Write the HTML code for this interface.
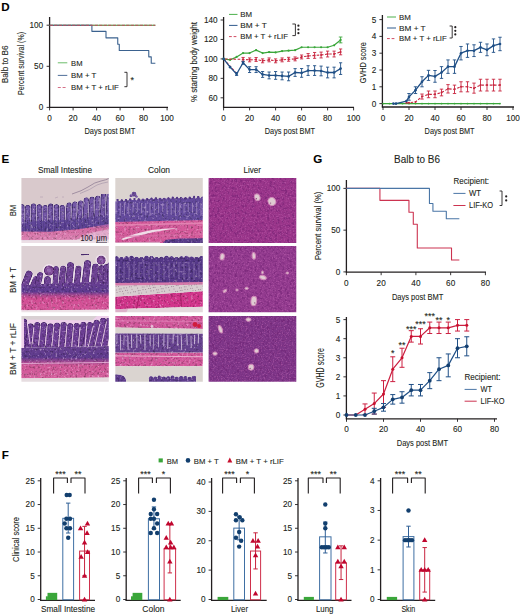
<!DOCTYPE html><html><head><meta charset="utf-8"><style>html,body{margin:0;padding:0;background:#fff;width:520px;height:614px;overflow:hidden}svg{display:block;font-family:"Liberation Sans",sans-serif}text{stroke:#231f20;stroke-width:0.18px;stroke-opacity:0.6}</style></head><body>
<svg width="520" height="614" viewBox="0 0 520 614">
<rect width="520" height="614" fill="#fff"/>
<text x="1.3" y="10.6" font-size="11.6" text-anchor="start" fill="#000" font-weight="bold">D</text>
<line x1="49.6" y1="17" x2="49.6" y2="107.9" stroke="#231f20" stroke-width="1.3"/>
<line x1="46.6" y1="25.2" x2="49.6" y2="25.2" stroke="#231f20" stroke-width="0.9"/>
<text x="43.2" y="28.1" font-size="8.2" text-anchor="end" fill="#231f20" font-weight="normal">100</text>
<line x1="46.6" y1="66.3" x2="49.6" y2="66.3" stroke="#231f20" stroke-width="0.9"/>
<text x="43.2" y="69.2" font-size="8.2" text-anchor="end" fill="#231f20" font-weight="normal">50</text>
<line x1="46.6" y1="107.4" x2="49.6" y2="107.4" stroke="#231f20" stroke-width="0.9"/>
<text x="43.2" y="110.3" font-size="8.2" text-anchor="end" fill="#231f20" font-weight="normal">0</text>
<line x1="49.1" y1="107.4" x2="168" y2="107.4" stroke="#231f20" stroke-width="1.3"/>
<line x1="49.6" y1="107.4" x2="49.6" y2="110.4" stroke="#231f20" stroke-width="0.9"/>
<text x="49.6" y="120.6" font-size="8.2" text-anchor="middle" fill="#231f20" font-weight="normal">0</text>
<line x1="73.1" y1="107.4" x2="73.1" y2="110.4" stroke="#231f20" stroke-width="0.9"/>
<text x="73.1" y="120.6" font-size="8.2" text-anchor="middle" fill="#231f20" font-weight="normal">20</text>
<line x1="96.6" y1="107.4" x2="96.6" y2="110.4" stroke="#231f20" stroke-width="0.9"/>
<text x="96.6" y="120.6" font-size="8.2" text-anchor="middle" fill="#231f20" font-weight="normal">40</text>
<line x1="120.1" y1="107.4" x2="120.1" y2="110.4" stroke="#231f20" stroke-width="0.9"/>
<text x="120.1" y="120.6" font-size="8.2" text-anchor="middle" fill="#231f20" font-weight="normal">60</text>
<line x1="143.6" y1="107.4" x2="143.6" y2="110.4" stroke="#231f20" stroke-width="0.9"/>
<text x="143.6" y="120.6" font-size="8.2" text-anchor="middle" fill="#231f20" font-weight="normal">80</text>
<line x1="167.1" y1="107.4" x2="167.1" y2="110.4" stroke="#231f20" stroke-width="0.9"/>
<text x="167.1" y="120.6" font-size="8.2" text-anchor="middle" fill="#231f20" font-weight="normal">100</text>
<text x="109.9" y="133.9" font-size="9.8" text-anchor="middle" fill="#231f20" font-weight="normal" textLength="50.8" lengthAdjust="spacingAndGlyphs">Days post BMT</text>
<text transform="translate(24 63.5) rotate(-90)" x="0" y="0" font-size="9.6" text-anchor="middle" fill="#231f20" font-weight="normal" textLength="63" lengthAdjust="spacingAndGlyphs">Percent survival (%)</text>
<text transform="translate(8.2 64.3) rotate(-90)" x="0" y="0" font-size="8.6" text-anchor="middle" fill="#231f20" font-weight="normal" textLength="37.8" lengthAdjust="spacingAndGlyphs">Balb to B6</text>
<polyline points="49.6,25.2 155.35,25.2" fill="none" stroke="#2ca02c" stroke-width="1.1" stroke-linejoin="round"/>
<polyline points="49.6,25.2 91.9,25.2 91.9,31.37 106,31.37 106,37.86 117.75,37.86 117.75,44.19 119.28,44.19 119.28,50.52 148.77,50.52 148.77,56.85 151.24,56.85 151.24,63.18 155.35,63.18" fill="none" stroke="#3b628f" stroke-width="1.1" stroke-linejoin="round"/>
<polyline points="49.6,25.2 155.35,25.2" fill="none" stroke="#c24a5e" stroke-width="1.1" stroke-linejoin="round" stroke-dasharray="3.4,1.1"/>
<line x1="57.8" y1="62.8" x2="67.3" y2="62.8" stroke="#5bb55a" stroke-width="0.9"/>
<line x1="57.8" y1="75.4" x2="67.3" y2="75.4" stroke="#3b5d8d" stroke-width="0.9"/>
<line x1="57.8" y1="87.5" x2="67.3" y2="87.5" stroke="#d0607a" stroke-width="0.9" stroke-dasharray="3,1.8"/>
<text x="71.1" y="65.9" font-size="7.6" text-anchor="start" fill="#231f20" font-weight="normal" textLength="11.4" lengthAdjust="spacingAndGlyphs">BM</text>
<text x="71.1" y="78.2" font-size="7.6" text-anchor="start" fill="#231f20" font-weight="normal" textLength="25.3" lengthAdjust="spacingAndGlyphs">BM + T</text>
<text x="71.1" y="90.3" font-size="7.6" text-anchor="start" fill="#231f20" font-weight="normal" textLength="47.8" lengthAdjust="spacingAndGlyphs">BM + T + rLIF</text>
<polyline points="124.4,72.3 127,72.3 127,86.7 124.4,86.7" fill="none" stroke="#231f20" stroke-width="0.9" stroke-linejoin="round"/>
<text x="132.2" y="83.4" font-size="9" text-anchor="middle" fill="#231f20" font-weight="normal">*</text>
<line x1="223.6" y1="17" x2="223.6" y2="107.9" stroke="#231f20" stroke-width="1.3"/>
<line x1="220.6" y1="20" x2="223.6" y2="20" stroke="#231f20" stroke-width="0.9"/>
<text x="217.6" y="22.9" font-size="8.2" text-anchor="end" fill="#231f20" font-weight="normal">140</text>
<line x1="220.6" y1="39.45" x2="223.6" y2="39.45" stroke="#231f20" stroke-width="0.9"/>
<text x="217.6" y="42.35" font-size="8.2" text-anchor="end" fill="#231f20" font-weight="normal">120</text>
<line x1="220.6" y1="58.9" x2="223.6" y2="58.9" stroke="#231f20" stroke-width="0.9"/>
<text x="217.6" y="61.8" font-size="8.2" text-anchor="end" fill="#231f20" font-weight="normal">100</text>
<line x1="220.6" y1="78.35" x2="223.6" y2="78.35" stroke="#231f20" stroke-width="0.9"/>
<text x="217.6" y="81.25" font-size="8.2" text-anchor="end" fill="#231f20" font-weight="normal">80</text>
<line x1="220.6" y1="97.8" x2="223.6" y2="97.8" stroke="#231f20" stroke-width="0.9"/>
<text x="217.6" y="100.7" font-size="8.2" text-anchor="end" fill="#231f20" font-weight="normal">60</text>
<line x1="223.1" y1="107.4" x2="354" y2="107.4" stroke="#231f20" stroke-width="1.3"/>
<line x1="223.6" y1="107.4" x2="223.6" y2="110.4" stroke="#231f20" stroke-width="0.9"/>
<text x="223.6" y="120.6" font-size="8.2" text-anchor="middle" fill="#231f20" font-weight="normal">0</text>
<line x1="249.6" y1="107.4" x2="249.6" y2="110.4" stroke="#231f20" stroke-width="0.9"/>
<text x="249.6" y="120.6" font-size="8.2" text-anchor="middle" fill="#231f20" font-weight="normal">20</text>
<line x1="275.6" y1="107.4" x2="275.6" y2="110.4" stroke="#231f20" stroke-width="0.9"/>
<text x="275.6" y="120.6" font-size="8.2" text-anchor="middle" fill="#231f20" font-weight="normal">40</text>
<line x1="301.6" y1="107.4" x2="301.6" y2="110.4" stroke="#231f20" stroke-width="0.9"/>
<text x="301.6" y="120.6" font-size="8.2" text-anchor="middle" fill="#231f20" font-weight="normal">60</text>
<line x1="327.6" y1="107.4" x2="327.6" y2="110.4" stroke="#231f20" stroke-width="0.9"/>
<text x="327.6" y="120.6" font-size="8.2" text-anchor="middle" fill="#231f20" font-weight="normal">80</text>
<line x1="353.6" y1="107.4" x2="353.6" y2="110.4" stroke="#231f20" stroke-width="0.9"/>
<text x="353.6" y="120.6" font-size="8.2" text-anchor="middle" fill="#231f20" font-weight="normal">100</text>
<text x="289.9" y="133.9" font-size="9.8" text-anchor="middle" fill="#231f20" font-weight="normal" textLength="50.2" lengthAdjust="spacingAndGlyphs">Days post BMT</text>
<text transform="translate(196.9 62) rotate(-90)" x="0" y="0" font-size="9.2" text-anchor="middle" fill="#231f20" font-weight="normal" textLength="80" lengthAdjust="spacingAndGlyphs">% starting body weight</text>
<polyline points="223.6,58.9 230.1,59.87 236.6,56.95 243.1,53.06 249.6,53.06 256.1,50.15 262.6,53.06 269.1,52.09 275.6,52.38 282.1,51.12 288.6,50.63 295.1,50.15 301.6,47.23 308.1,47.23 314.6,47.23 321.1,47.23 327.6,47.23 334.1,45.28 340.6,39.94" fill="none" stroke="#3aa63a" stroke-width="1.2" stroke-linejoin="round"/>
<circle cx="223.6" cy="58.9" r="1.1" fill="#3aa63a"/>
<circle cx="230.1" cy="59.87" r="1.1" fill="#3aa63a"/>
<circle cx="236.6" cy="56.95" r="1.1" fill="#3aa63a"/>
<circle cx="243.1" cy="53.06" r="1.1" fill="#3aa63a"/>
<circle cx="249.6" cy="53.06" r="1.1" fill="#3aa63a"/>
<circle cx="256.1" cy="50.15" r="1.1" fill="#3aa63a"/>
<circle cx="262.6" cy="53.06" r="1.1" fill="#3aa63a"/>
<circle cx="269.1" cy="52.09" r="1.1" fill="#3aa63a"/>
<circle cx="275.6" cy="52.38" r="1.1" fill="#3aa63a"/>
<circle cx="282.1" cy="51.12" r="1.1" fill="#3aa63a"/>
<circle cx="288.6" cy="50.63" r="1.1" fill="#3aa63a"/>
<circle cx="295.1" cy="50.15" r="1.1" fill="#3aa63a"/>
<circle cx="301.6" cy="47.23" r="1.1" fill="#3aa63a"/>
<circle cx="308.1" cy="47.23" r="1.1" fill="#3aa63a"/>
<circle cx="314.6" cy="47.23" r="1.1" fill="#3aa63a"/>
<circle cx="321.1" cy="47.23" r="1.1" fill="#3aa63a"/>
<circle cx="327.6" cy="47.23" r="1.1" fill="#3aa63a"/>
<circle cx="334.1" cy="45.28" r="1.1" fill="#3aa63a"/>
<circle cx="340.6" cy="39.94" r="1.1" fill="#3aa63a"/>
<line x1="340.6" y1="37.02" x2="340.6" y2="42.85" stroke="#3aa63a" stroke-width="0.9"/>
<line x1="338.8" y1="37.02" x2="342.4" y2="37.02" stroke="#3aa63a" stroke-width="0.9"/>
<line x1="338.8" y1="42.85" x2="342.4" y2="42.85" stroke="#3aa63a" stroke-width="0.9"/>
<polyline points="236.6,73.49 223.6,58.9 243.1,59.39 249.6,59.87 256.1,59.48 262.6,60.84 269.1,59.87 275.6,60.84 282.1,59.87 288.6,59.29 295.1,58.9 301.6,56.95 308.1,55.98 314.6,55.4 321.1,55.01 327.6,54.04 334.1,54.04 340.6,51.9" fill="none" stroke="#c8263f" stroke-width="1.1" stroke-linejoin="round" stroke-dasharray="2.6,1.6"/>
<line x1="243.1" y1="57.44" x2="243.1" y2="61.33" stroke="#c8263f" stroke-width="0.9"/>
<line x1="241.5" y1="57.44" x2="244.7" y2="57.44" stroke="#c8263f" stroke-width="0.9"/>
<line x1="241.5" y1="61.33" x2="244.7" y2="61.33" stroke="#c8263f" stroke-width="0.9"/>
<circle cx="243.1" cy="59.39" r="1" fill="#c8263f"/>
<line x1="249.6" y1="57.93" x2="249.6" y2="61.82" stroke="#c8263f" stroke-width="0.9"/>
<line x1="248" y1="57.93" x2="251.2" y2="57.93" stroke="#c8263f" stroke-width="0.9"/>
<line x1="248" y1="61.82" x2="251.2" y2="61.82" stroke="#c8263f" stroke-width="0.9"/>
<circle cx="249.6" cy="59.87" r="1" fill="#c8263f"/>
<line x1="256.1" y1="57.54" x2="256.1" y2="61.43" stroke="#c8263f" stroke-width="0.9"/>
<line x1="254.5" y1="57.54" x2="257.7" y2="57.54" stroke="#c8263f" stroke-width="0.9"/>
<line x1="254.5" y1="61.43" x2="257.7" y2="61.43" stroke="#c8263f" stroke-width="0.9"/>
<circle cx="256.1" cy="59.48" r="1" fill="#c8263f"/>
<line x1="262.6" y1="58.9" x2="262.6" y2="62.79" stroke="#c8263f" stroke-width="0.9"/>
<line x1="261" y1="58.9" x2="264.2" y2="58.9" stroke="#c8263f" stroke-width="0.9"/>
<line x1="261" y1="62.79" x2="264.2" y2="62.79" stroke="#c8263f" stroke-width="0.9"/>
<circle cx="262.6" cy="60.84" r="1" fill="#c8263f"/>
<line x1="269.1" y1="57.93" x2="269.1" y2="61.82" stroke="#c8263f" stroke-width="0.9"/>
<line x1="267.5" y1="57.93" x2="270.7" y2="57.93" stroke="#c8263f" stroke-width="0.9"/>
<line x1="267.5" y1="61.82" x2="270.7" y2="61.82" stroke="#c8263f" stroke-width="0.9"/>
<circle cx="269.1" cy="59.87" r="1" fill="#c8263f"/>
<line x1="275.6" y1="58.9" x2="275.6" y2="62.79" stroke="#c8263f" stroke-width="0.9"/>
<line x1="274" y1="58.9" x2="277.2" y2="58.9" stroke="#c8263f" stroke-width="0.9"/>
<line x1="274" y1="62.79" x2="277.2" y2="62.79" stroke="#c8263f" stroke-width="0.9"/>
<circle cx="275.6" cy="60.84" r="1" fill="#c8263f"/>
<line x1="282.1" y1="57.93" x2="282.1" y2="61.82" stroke="#c8263f" stroke-width="0.9"/>
<line x1="280.5" y1="57.93" x2="283.7" y2="57.93" stroke="#c8263f" stroke-width="0.9"/>
<line x1="280.5" y1="61.82" x2="283.7" y2="61.82" stroke="#c8263f" stroke-width="0.9"/>
<circle cx="282.1" cy="59.87" r="1" fill="#c8263f"/>
<line x1="288.6" y1="57.34" x2="288.6" y2="61.23" stroke="#c8263f" stroke-width="0.9"/>
<line x1="287" y1="57.34" x2="290.2" y2="57.34" stroke="#c8263f" stroke-width="0.9"/>
<line x1="287" y1="61.23" x2="290.2" y2="61.23" stroke="#c8263f" stroke-width="0.9"/>
<circle cx="288.6" cy="59.29" r="1" fill="#c8263f"/>
<line x1="295.1" y1="56.95" x2="295.1" y2="60.84" stroke="#c8263f" stroke-width="0.9"/>
<line x1="293.5" y1="56.95" x2="296.7" y2="56.95" stroke="#c8263f" stroke-width="0.9"/>
<line x1="293.5" y1="60.84" x2="296.7" y2="60.84" stroke="#c8263f" stroke-width="0.9"/>
<circle cx="295.1" cy="58.9" r="1" fill="#c8263f"/>
<line x1="301.6" y1="55.01" x2="301.6" y2="58.9" stroke="#c8263f" stroke-width="0.9"/>
<line x1="300" y1="55.01" x2="303.2" y2="55.01" stroke="#c8263f" stroke-width="0.9"/>
<line x1="300" y1="58.9" x2="303.2" y2="58.9" stroke="#c8263f" stroke-width="0.9"/>
<circle cx="301.6" cy="56.95" r="1" fill="#c8263f"/>
<line x1="308.1" y1="53.55" x2="308.1" y2="58.41" stroke="#c8263f" stroke-width="0.9"/>
<line x1="306.5" y1="53.55" x2="309.7" y2="53.55" stroke="#c8263f" stroke-width="0.9"/>
<line x1="306.5" y1="58.41" x2="309.7" y2="58.41" stroke="#c8263f" stroke-width="0.9"/>
<circle cx="308.1" cy="55.98" r="1" fill="#c8263f"/>
<line x1="314.6" y1="52.48" x2="314.6" y2="58.32" stroke="#c8263f" stroke-width="0.9"/>
<line x1="313" y1="52.48" x2="316.2" y2="52.48" stroke="#c8263f" stroke-width="0.9"/>
<line x1="313" y1="58.32" x2="316.2" y2="58.32" stroke="#c8263f" stroke-width="0.9"/>
<circle cx="314.6" cy="55.4" r="1" fill="#c8263f"/>
<line x1="321.1" y1="52.09" x2="321.1" y2="57.93" stroke="#c8263f" stroke-width="0.9"/>
<line x1="319.5" y1="52.09" x2="322.7" y2="52.09" stroke="#c8263f" stroke-width="0.9"/>
<line x1="319.5" y1="57.93" x2="322.7" y2="57.93" stroke="#c8263f" stroke-width="0.9"/>
<circle cx="321.1" cy="55.01" r="1" fill="#c8263f"/>
<line x1="327.6" y1="51.12" x2="327.6" y2="56.95" stroke="#c8263f" stroke-width="0.9"/>
<line x1="326" y1="51.12" x2="329.2" y2="51.12" stroke="#c8263f" stroke-width="0.9"/>
<line x1="326" y1="56.95" x2="329.2" y2="56.95" stroke="#c8263f" stroke-width="0.9"/>
<circle cx="327.6" cy="54.04" r="1" fill="#c8263f"/>
<line x1="334.1" y1="51.12" x2="334.1" y2="56.95" stroke="#c8263f" stroke-width="0.9"/>
<line x1="332.5" y1="51.12" x2="335.7" y2="51.12" stroke="#c8263f" stroke-width="0.9"/>
<line x1="332.5" y1="56.95" x2="335.7" y2="56.95" stroke="#c8263f" stroke-width="0.9"/>
<circle cx="334.1" cy="54.04" r="1" fill="#c8263f"/>
<line x1="340.6" y1="48.98" x2="340.6" y2="54.82" stroke="#c8263f" stroke-width="0.9"/>
<line x1="339" y1="48.98" x2="342.2" y2="48.98" stroke="#c8263f" stroke-width="0.9"/>
<line x1="339" y1="54.82" x2="342.2" y2="54.82" stroke="#c8263f" stroke-width="0.9"/>
<circle cx="340.6" cy="51.9" r="1" fill="#c8263f"/>
<polyline points="223.6,58.9 230.1,67.17 236.6,73.97 243.1,62.79 249.6,69.6 256.1,69.6 262.6,74.46 269.1,75.43 275.6,75.43 282.1,75.92 288.6,76.41 295.1,72.52 301.6,72.9 308.1,70.57 314.6,70.57 321.1,70.96 327.6,72.52 334.1,72.52 340.6,68.62" fill="none" stroke="#1f4f86" stroke-width="1.3" stroke-linejoin="round"/>
<circle cx="223.6" cy="58.9" r="1.3" fill="#1f4f86"/>
<circle cx="230.1" cy="67.17" r="1.3" fill="#1f4f86"/>
<line x1="236.6" y1="72.52" x2="236.6" y2="75.43" stroke="#1f4f86" stroke-width="0.9"/>
<line x1="235" y1="72.52" x2="238.2" y2="72.52" stroke="#1f4f86" stroke-width="0.9"/>
<line x1="235" y1="75.43" x2="238.2" y2="75.43" stroke="#1f4f86" stroke-width="0.9"/>
<circle cx="236.6" cy="73.97" r="1.3" fill="#1f4f86"/>
<line x1="243.1" y1="61.33" x2="243.1" y2="64.25" stroke="#1f4f86" stroke-width="0.9"/>
<line x1="241.5" y1="61.33" x2="244.7" y2="61.33" stroke="#1f4f86" stroke-width="0.9"/>
<line x1="241.5" y1="64.25" x2="244.7" y2="64.25" stroke="#1f4f86" stroke-width="0.9"/>
<circle cx="243.1" cy="62.79" r="1.3" fill="#1f4f86"/>
<line x1="249.6" y1="66.68" x2="249.6" y2="72.52" stroke="#1f4f86" stroke-width="0.9"/>
<line x1="248" y1="66.68" x2="251.2" y2="66.68" stroke="#1f4f86" stroke-width="0.9"/>
<line x1="248" y1="72.52" x2="251.2" y2="72.52" stroke="#1f4f86" stroke-width="0.9"/>
<circle cx="249.6" cy="69.6" r="1.3" fill="#1f4f86"/>
<line x1="256.1" y1="66.68" x2="256.1" y2="72.52" stroke="#1f4f86" stroke-width="0.9"/>
<line x1="254.5" y1="66.68" x2="257.7" y2="66.68" stroke="#1f4f86" stroke-width="0.9"/>
<line x1="254.5" y1="72.52" x2="257.7" y2="72.52" stroke="#1f4f86" stroke-width="0.9"/>
<circle cx="256.1" cy="69.6" r="1.3" fill="#1f4f86"/>
<line x1="262.6" y1="71.54" x2="262.6" y2="77.38" stroke="#1f4f86" stroke-width="0.9"/>
<line x1="261" y1="71.54" x2="264.2" y2="71.54" stroke="#1f4f86" stroke-width="0.9"/>
<line x1="261" y1="77.38" x2="264.2" y2="77.38" stroke="#1f4f86" stroke-width="0.9"/>
<circle cx="262.6" cy="74.46" r="1.3" fill="#1f4f86"/>
<line x1="269.1" y1="72.03" x2="269.1" y2="78.84" stroke="#1f4f86" stroke-width="0.9"/>
<line x1="267.5" y1="72.03" x2="270.7" y2="72.03" stroke="#1f4f86" stroke-width="0.9"/>
<line x1="267.5" y1="78.84" x2="270.7" y2="78.84" stroke="#1f4f86" stroke-width="0.9"/>
<circle cx="269.1" cy="75.43" r="1.3" fill="#1f4f86"/>
<line x1="275.6" y1="71.54" x2="275.6" y2="79.32" stroke="#1f4f86" stroke-width="0.9"/>
<line x1="274" y1="71.54" x2="277.2" y2="71.54" stroke="#1f4f86" stroke-width="0.9"/>
<line x1="274" y1="79.32" x2="277.2" y2="79.32" stroke="#1f4f86" stroke-width="0.9"/>
<circle cx="275.6" cy="75.43" r="1.3" fill="#1f4f86"/>
<line x1="282.1" y1="72.03" x2="282.1" y2="79.81" stroke="#1f4f86" stroke-width="0.9"/>
<line x1="280.5" y1="72.03" x2="283.7" y2="72.03" stroke="#1f4f86" stroke-width="0.9"/>
<line x1="280.5" y1="79.81" x2="283.7" y2="79.81" stroke="#1f4f86" stroke-width="0.9"/>
<circle cx="282.1" cy="75.92" r="1.3" fill="#1f4f86"/>
<line x1="288.6" y1="72.03" x2="288.6" y2="80.78" stroke="#1f4f86" stroke-width="0.9"/>
<line x1="287" y1="72.03" x2="290.2" y2="72.03" stroke="#1f4f86" stroke-width="0.9"/>
<line x1="287" y1="80.78" x2="290.2" y2="80.78" stroke="#1f4f86" stroke-width="0.9"/>
<circle cx="288.6" cy="76.41" r="1.3" fill="#1f4f86"/>
<line x1="295.1" y1="68.62" x2="295.1" y2="76.41" stroke="#1f4f86" stroke-width="0.9"/>
<line x1="293.5" y1="68.62" x2="296.7" y2="68.62" stroke="#1f4f86" stroke-width="0.9"/>
<line x1="293.5" y1="76.41" x2="296.7" y2="76.41" stroke="#1f4f86" stroke-width="0.9"/>
<circle cx="295.1" cy="72.52" r="1.3" fill="#1f4f86"/>
<line x1="301.6" y1="68.53" x2="301.6" y2="77.28" stroke="#1f4f86" stroke-width="0.9"/>
<line x1="300" y1="68.53" x2="303.2" y2="68.53" stroke="#1f4f86" stroke-width="0.9"/>
<line x1="300" y1="77.28" x2="303.2" y2="77.28" stroke="#1f4f86" stroke-width="0.9"/>
<circle cx="301.6" cy="72.9" r="1.3" fill="#1f4f86"/>
<line x1="308.1" y1="65.71" x2="308.1" y2="75.43" stroke="#1f4f86" stroke-width="0.9"/>
<line x1="306.5" y1="65.71" x2="309.7" y2="65.71" stroke="#1f4f86" stroke-width="0.9"/>
<line x1="306.5" y1="75.43" x2="309.7" y2="75.43" stroke="#1f4f86" stroke-width="0.9"/>
<circle cx="308.1" cy="70.57" r="1.3" fill="#1f4f86"/>
<line x1="314.6" y1="65.71" x2="314.6" y2="75.43" stroke="#1f4f86" stroke-width="0.9"/>
<line x1="313" y1="65.71" x2="316.2" y2="65.71" stroke="#1f4f86" stroke-width="0.9"/>
<line x1="313" y1="75.43" x2="316.2" y2="75.43" stroke="#1f4f86" stroke-width="0.9"/>
<circle cx="314.6" cy="70.57" r="1.3" fill="#1f4f86"/>
<line x1="321.1" y1="66.1" x2="321.1" y2="75.82" stroke="#1f4f86" stroke-width="0.9"/>
<line x1="319.5" y1="66.1" x2="322.7" y2="66.1" stroke="#1f4f86" stroke-width="0.9"/>
<line x1="319.5" y1="75.82" x2="322.7" y2="75.82" stroke="#1f4f86" stroke-width="0.9"/>
<circle cx="321.1" cy="70.96" r="1.3" fill="#1f4f86"/>
<line x1="327.6" y1="67.17" x2="327.6" y2="77.86" stroke="#1f4f86" stroke-width="0.9"/>
<line x1="326" y1="67.17" x2="329.2" y2="67.17" stroke="#1f4f86" stroke-width="0.9"/>
<line x1="326" y1="77.86" x2="329.2" y2="77.86" stroke="#1f4f86" stroke-width="0.9"/>
<circle cx="327.6" cy="72.52" r="1.3" fill="#1f4f86"/>
<line x1="334.1" y1="67.17" x2="334.1" y2="77.86" stroke="#1f4f86" stroke-width="0.9"/>
<line x1="332.5" y1="67.17" x2="335.7" y2="67.17" stroke="#1f4f86" stroke-width="0.9"/>
<line x1="332.5" y1="77.86" x2="335.7" y2="77.86" stroke="#1f4f86" stroke-width="0.9"/>
<circle cx="334.1" cy="72.52" r="1.3" fill="#1f4f86"/>
<line x1="340.6" y1="62.79" x2="340.6" y2="74.46" stroke="#1f4f86" stroke-width="0.9"/>
<line x1="339" y1="62.79" x2="342.2" y2="62.79" stroke="#1f4f86" stroke-width="0.9"/>
<line x1="339" y1="74.46" x2="342.2" y2="74.46" stroke="#1f4f86" stroke-width="0.9"/>
<circle cx="340.6" cy="68.62" r="1.3" fill="#1f4f86"/>
<line x1="229" y1="14.4" x2="237.5" y2="14.4" stroke="#4cb04c" stroke-width="1"/>
<line x1="229" y1="25.4" x2="237.5" y2="25.4" stroke="#2f5a8c" stroke-width="1"/>
<line x1="229" y1="36.6" x2="237.5" y2="36.6" stroke="#d04a62" stroke-width="1" stroke-dasharray="2.8,1.8"/>
<text x="240.2" y="17.4" font-size="7.6" text-anchor="start" fill="#231f20" font-weight="normal" textLength="11.8" lengthAdjust="spacingAndGlyphs">BM</text>
<text x="240.2" y="28.2" font-size="7.6" text-anchor="start" fill="#231f20" font-weight="normal" textLength="26.6" lengthAdjust="spacingAndGlyphs">BM + T</text>
<text x="240.2" y="39.4" font-size="7.6" text-anchor="start" fill="#231f20" font-weight="normal" textLength="47.8" lengthAdjust="spacingAndGlyphs">BM + T + rLIF</text>
<polyline points="292.4,24 295.4,24 295.4,35.6 292.4,35.6" fill="none" stroke="#231f20" stroke-width="0.9" stroke-linejoin="round"/>
<circle cx="298.4" cy="25.7" r="1.1" fill="#231f20"/>
<circle cx="298.4" cy="29.5" r="1.1" fill="#231f20"/>
<circle cx="298.4" cy="33.2" r="1.1" fill="#231f20"/>
<line x1="382.4" y1="15" x2="382.4" y2="107.5" stroke="#231f20" stroke-width="1.3"/>
<line x1="379.4" y1="19.6" x2="382.4" y2="19.6" stroke="#231f20" stroke-width="0.9"/>
<text x="376.4" y="22.5" font-size="8.2" text-anchor="end" fill="#231f20" font-weight="normal">5</text>
<line x1="379.4" y1="36.4" x2="382.4" y2="36.4" stroke="#231f20" stroke-width="0.9"/>
<text x="376.4" y="39.3" font-size="8.2" text-anchor="end" fill="#231f20" font-weight="normal">4</text>
<line x1="379.4" y1="53.2" x2="382.4" y2="53.2" stroke="#231f20" stroke-width="0.9"/>
<text x="376.4" y="56.1" font-size="8.2" text-anchor="end" fill="#231f20" font-weight="normal">3</text>
<line x1="379.4" y1="70" x2="382.4" y2="70" stroke="#231f20" stroke-width="0.9"/>
<text x="376.4" y="72.9" font-size="8.2" text-anchor="end" fill="#231f20" font-weight="normal">2</text>
<line x1="379.4" y1="86.8" x2="382.4" y2="86.8" stroke="#231f20" stroke-width="0.9"/>
<text x="376.4" y="89.7" font-size="8.2" text-anchor="end" fill="#231f20" font-weight="normal">1</text>
<line x1="379.4" y1="103.6" x2="382.4" y2="103.6" stroke="#231f20" stroke-width="0.9"/>
<text x="376.4" y="106.5" font-size="8.2" text-anchor="end" fill="#231f20" font-weight="normal">0</text>
<line x1="381.9" y1="107" x2="514" y2="107" stroke="#231f20" stroke-width="1.3"/>
<line x1="383" y1="107" x2="383" y2="110" stroke="#231f20" stroke-width="0.9"/>
<text x="383" y="120.6" font-size="8.2" text-anchor="middle" fill="#231f20" font-weight="normal">0</text>
<line x1="409" y1="107" x2="409" y2="110" stroke="#231f20" stroke-width="0.9"/>
<text x="409" y="120.6" font-size="8.2" text-anchor="middle" fill="#231f20" font-weight="normal">20</text>
<line x1="435" y1="107" x2="435" y2="110" stroke="#231f20" stroke-width="0.9"/>
<text x="435" y="120.6" font-size="8.2" text-anchor="middle" fill="#231f20" font-weight="normal">40</text>
<line x1="461" y1="107" x2="461" y2="110" stroke="#231f20" stroke-width="0.9"/>
<text x="461" y="120.6" font-size="8.2" text-anchor="middle" fill="#231f20" font-weight="normal">60</text>
<line x1="487" y1="107" x2="487" y2="110" stroke="#231f20" stroke-width="0.9"/>
<text x="487" y="120.6" font-size="8.2" text-anchor="middle" fill="#231f20" font-weight="normal">80</text>
<line x1="513" y1="107" x2="513" y2="110" stroke="#231f20" stroke-width="0.9"/>
<text x="513" y="120.6" font-size="8.2" text-anchor="middle" fill="#231f20" font-weight="normal">100</text>
<text x="449.6" y="133.9" font-size="9.8" text-anchor="middle" fill="#231f20" font-weight="normal" textLength="50" lengthAdjust="spacingAndGlyphs">Days post BMT</text>
<text transform="translate(365.6 62.8) rotate(-90)" x="0" y="0" font-size="9.2" text-anchor="middle" fill="#231f20" font-weight="normal" textLength="41" lengthAdjust="spacingAndGlyphs">GVHD score</text>
<polyline points="383,103.6 500,103.6" fill="none" stroke="#3aa63a" stroke-width="1.2" stroke-linejoin="round"/>
<circle cx="383" cy="103.6" r="0.9" fill="#3aa63a"/>
<circle cx="389.5" cy="103.6" r="0.9" fill="#3aa63a"/>
<circle cx="396" cy="103.6" r="0.9" fill="#3aa63a"/>
<circle cx="402.5" cy="103.6" r="0.9" fill="#3aa63a"/>
<circle cx="409" cy="103.6" r="0.9" fill="#3aa63a"/>
<circle cx="415.5" cy="103.6" r="0.9" fill="#3aa63a"/>
<circle cx="422" cy="103.6" r="0.9" fill="#3aa63a"/>
<circle cx="428.5" cy="103.6" r="0.9" fill="#3aa63a"/>
<circle cx="435" cy="103.6" r="0.9" fill="#3aa63a"/>
<circle cx="441.5" cy="103.6" r="0.9" fill="#3aa63a"/>
<circle cx="448" cy="103.6" r="0.9" fill="#3aa63a"/>
<circle cx="454.5" cy="103.6" r="0.9" fill="#3aa63a"/>
<circle cx="461" cy="103.6" r="0.9" fill="#3aa63a"/>
<circle cx="467.5" cy="103.6" r="0.9" fill="#3aa63a"/>
<circle cx="474" cy="103.6" r="0.9" fill="#3aa63a"/>
<circle cx="480.5" cy="103.6" r="0.9" fill="#3aa63a"/>
<circle cx="487" cy="103.6" r="0.9" fill="#3aa63a"/>
<circle cx="493.5" cy="103.6" r="0.9" fill="#3aa63a"/>
<circle cx="500" cy="103.6" r="0.9" fill="#3aa63a"/>
<polyline points="406.4,102.76 409,102.76 415.5,101.92 422,96.54 428.5,94.36 435,94.36 441.5,92.51 448,88.82 454.5,89.32 461,86.8 467.5,86.8 474,88.14 480.5,85.12 487,85.12 493.5,85.12 500,85.12" fill="none" stroke="#c8263f" stroke-width="1.1" stroke-linejoin="round" stroke-dasharray="2.6,1.6"/>
<circle cx="406.4" cy="102.76" r="1" fill="#c8263f"/>
<circle cx="409" cy="102.76" r="1" fill="#c8263f"/>
<circle cx="415.5" cy="101.92" r="1" fill="#c8263f"/>
<line x1="422" y1="94.02" x2="422" y2="99.06" stroke="#c8263f" stroke-width="0.9"/>
<line x1="420.3" y1="94.02" x2="423.7" y2="94.02" stroke="#c8263f" stroke-width="0.9"/>
<line x1="420.3" y1="99.06" x2="423.7" y2="99.06" stroke="#c8263f" stroke-width="0.9"/>
<circle cx="422" cy="96.54" r="1" fill="#c8263f"/>
<line x1="428.5" y1="91" x2="428.5" y2="97.72" stroke="#c8263f" stroke-width="0.9"/>
<line x1="426.8" y1="91" x2="430.2" y2="91" stroke="#c8263f" stroke-width="0.9"/>
<line x1="426.8" y1="97.72" x2="430.2" y2="97.72" stroke="#c8263f" stroke-width="0.9"/>
<circle cx="428.5" cy="94.36" r="1" fill="#c8263f"/>
<line x1="435" y1="91" x2="435" y2="97.72" stroke="#c8263f" stroke-width="0.9"/>
<line x1="433.3" y1="91" x2="436.7" y2="91" stroke="#c8263f" stroke-width="0.9"/>
<line x1="433.3" y1="97.72" x2="436.7" y2="97.72" stroke="#c8263f" stroke-width="0.9"/>
<circle cx="435" cy="94.36" r="1" fill="#c8263f"/>
<line x1="441.5" y1="89.15" x2="441.5" y2="95.87" stroke="#c8263f" stroke-width="0.9"/>
<line x1="439.8" y1="89.15" x2="443.2" y2="89.15" stroke="#c8263f" stroke-width="0.9"/>
<line x1="439.8" y1="95.87" x2="443.2" y2="95.87" stroke="#c8263f" stroke-width="0.9"/>
<circle cx="441.5" cy="92.51" r="1" fill="#c8263f"/>
<line x1="448" y1="84.62" x2="448" y2="93.02" stroke="#c8263f" stroke-width="0.9"/>
<line x1="446.3" y1="84.62" x2="449.7" y2="84.62" stroke="#c8263f" stroke-width="0.9"/>
<line x1="446.3" y1="93.02" x2="449.7" y2="93.02" stroke="#c8263f" stroke-width="0.9"/>
<circle cx="448" cy="88.82" r="1" fill="#c8263f"/>
<line x1="454.5" y1="85.12" x2="454.5" y2="93.52" stroke="#c8263f" stroke-width="0.9"/>
<line x1="452.8" y1="85.12" x2="456.2" y2="85.12" stroke="#c8263f" stroke-width="0.9"/>
<line x1="452.8" y1="93.52" x2="456.2" y2="93.52" stroke="#c8263f" stroke-width="0.9"/>
<circle cx="454.5" cy="89.32" r="1" fill="#c8263f"/>
<line x1="461" y1="81.76" x2="461" y2="91.84" stroke="#c8263f" stroke-width="0.9"/>
<line x1="459.3" y1="81.76" x2="462.7" y2="81.76" stroke="#c8263f" stroke-width="0.9"/>
<line x1="459.3" y1="91.84" x2="462.7" y2="91.84" stroke="#c8263f" stroke-width="0.9"/>
<circle cx="461" cy="86.8" r="1" fill="#c8263f"/>
<line x1="467.5" y1="81.76" x2="467.5" y2="91.84" stroke="#c8263f" stroke-width="0.9"/>
<line x1="465.8" y1="81.76" x2="469.2" y2="81.76" stroke="#c8263f" stroke-width="0.9"/>
<line x1="465.8" y1="91.84" x2="469.2" y2="91.84" stroke="#c8263f" stroke-width="0.9"/>
<circle cx="467.5" cy="86.8" r="1" fill="#c8263f"/>
<line x1="474" y1="83.1" x2="474" y2="93.18" stroke="#c8263f" stroke-width="0.9"/>
<line x1="472.3" y1="83.1" x2="475.7" y2="83.1" stroke="#c8263f" stroke-width="0.9"/>
<line x1="472.3" y1="93.18" x2="475.7" y2="93.18" stroke="#c8263f" stroke-width="0.9"/>
<circle cx="474" cy="88.14" r="1" fill="#c8263f"/>
<line x1="480.5" y1="79.24" x2="480.5" y2="91" stroke="#c8263f" stroke-width="0.9"/>
<line x1="478.8" y1="79.24" x2="482.2" y2="79.24" stroke="#c8263f" stroke-width="0.9"/>
<line x1="478.8" y1="91" x2="482.2" y2="91" stroke="#c8263f" stroke-width="0.9"/>
<circle cx="480.5" cy="85.12" r="1" fill="#c8263f"/>
<line x1="487" y1="79.24" x2="487" y2="91" stroke="#c8263f" stroke-width="0.9"/>
<line x1="485.3" y1="79.24" x2="488.7" y2="79.24" stroke="#c8263f" stroke-width="0.9"/>
<line x1="485.3" y1="91" x2="488.7" y2="91" stroke="#c8263f" stroke-width="0.9"/>
<circle cx="487" cy="85.12" r="1" fill="#c8263f"/>
<line x1="493.5" y1="79.24" x2="493.5" y2="91" stroke="#c8263f" stroke-width="0.9"/>
<line x1="491.8" y1="79.24" x2="495.2" y2="79.24" stroke="#c8263f" stroke-width="0.9"/>
<line x1="491.8" y1="91" x2="495.2" y2="91" stroke="#c8263f" stroke-width="0.9"/>
<circle cx="493.5" cy="85.12" r="1" fill="#c8263f"/>
<line x1="500" y1="79.24" x2="500" y2="91" stroke="#c8263f" stroke-width="0.9"/>
<line x1="498.3" y1="79.24" x2="501.7" y2="79.24" stroke="#c8263f" stroke-width="0.9"/>
<line x1="498.3" y1="91" x2="501.7" y2="91" stroke="#c8263f" stroke-width="0.9"/>
<circle cx="500" cy="85.12" r="1" fill="#c8263f"/>
<polyline points="393.4,103.6 396,103.6 406.4,101.08 409,96.88 415.5,90.16 422,81.76 428.5,75.38 435,76.38 441.5,72.52 448,66.64 454.5,66.64 461,53.2 467.5,50.68 474,50.68 480.5,47.32 487,49.84 493.5,45.64 500,43.96" fill="none" stroke="#1f4f86" stroke-width="1.3" stroke-linejoin="round"/>
<circle cx="393.4" cy="103.6" r="1.3" fill="#1f4f86"/>
<circle cx="396" cy="103.6" r="1.3" fill="#1f4f86"/>
<circle cx="406.4" cy="101.08" r="1.3" fill="#1f4f86"/>
<line x1="409" y1="93.52" x2="409" y2="100.24" stroke="#1f4f86" stroke-width="0.9"/>
<line x1="407.3" y1="93.52" x2="410.7" y2="93.52" stroke="#1f4f86" stroke-width="0.9"/>
<line x1="407.3" y1="100.24" x2="410.7" y2="100.24" stroke="#1f4f86" stroke-width="0.9"/>
<circle cx="409" cy="96.88" r="1.3" fill="#1f4f86"/>
<line x1="415.5" y1="86.8" x2="415.5" y2="93.52" stroke="#1f4f86" stroke-width="0.9"/>
<line x1="413.8" y1="86.8" x2="417.2" y2="86.8" stroke="#1f4f86" stroke-width="0.9"/>
<line x1="413.8" y1="93.52" x2="417.2" y2="93.52" stroke="#1f4f86" stroke-width="0.9"/>
<circle cx="415.5" cy="90.16" r="1.3" fill="#1f4f86"/>
<line x1="422" y1="76.72" x2="422" y2="86.8" stroke="#1f4f86" stroke-width="0.9"/>
<line x1="420.3" y1="76.72" x2="423.7" y2="76.72" stroke="#1f4f86" stroke-width="0.9"/>
<line x1="420.3" y1="86.8" x2="423.7" y2="86.8" stroke="#1f4f86" stroke-width="0.9"/>
<circle cx="422" cy="81.76" r="1.3" fill="#1f4f86"/>
<line x1="428.5" y1="70.34" x2="428.5" y2="80.42" stroke="#1f4f86" stroke-width="0.9"/>
<line x1="426.8" y1="70.34" x2="430.2" y2="70.34" stroke="#1f4f86" stroke-width="0.9"/>
<line x1="426.8" y1="80.42" x2="430.2" y2="80.42" stroke="#1f4f86" stroke-width="0.9"/>
<circle cx="428.5" cy="75.38" r="1.3" fill="#1f4f86"/>
<line x1="435" y1="70.5" x2="435" y2="82.26" stroke="#1f4f86" stroke-width="0.9"/>
<line x1="433.3" y1="70.5" x2="436.7" y2="70.5" stroke="#1f4f86" stroke-width="0.9"/>
<line x1="433.3" y1="82.26" x2="436.7" y2="82.26" stroke="#1f4f86" stroke-width="0.9"/>
<circle cx="435" cy="76.38" r="1.3" fill="#1f4f86"/>
<line x1="441.5" y1="66.64" x2="441.5" y2="78.4" stroke="#1f4f86" stroke-width="0.9"/>
<line x1="439.8" y1="66.64" x2="443.2" y2="66.64" stroke="#1f4f86" stroke-width="0.9"/>
<line x1="439.8" y1="78.4" x2="443.2" y2="78.4" stroke="#1f4f86" stroke-width="0.9"/>
<circle cx="441.5" cy="72.52" r="1.3" fill="#1f4f86"/>
<line x1="448" y1="59.92" x2="448" y2="73.36" stroke="#1f4f86" stroke-width="0.9"/>
<line x1="446.3" y1="59.92" x2="449.7" y2="59.92" stroke="#1f4f86" stroke-width="0.9"/>
<line x1="446.3" y1="73.36" x2="449.7" y2="73.36" stroke="#1f4f86" stroke-width="0.9"/>
<circle cx="448" cy="66.64" r="1.3" fill="#1f4f86"/>
<line x1="454.5" y1="59.92" x2="454.5" y2="73.36" stroke="#1f4f86" stroke-width="0.9"/>
<line x1="452.8" y1="59.92" x2="456.2" y2="59.92" stroke="#1f4f86" stroke-width="0.9"/>
<line x1="452.8" y1="73.36" x2="456.2" y2="73.36" stroke="#1f4f86" stroke-width="0.9"/>
<circle cx="454.5" cy="66.64" r="1.3" fill="#1f4f86"/>
<line x1="461" y1="46.48" x2="461" y2="59.92" stroke="#1f4f86" stroke-width="0.9"/>
<line x1="459.3" y1="46.48" x2="462.7" y2="46.48" stroke="#1f4f86" stroke-width="0.9"/>
<line x1="459.3" y1="59.92" x2="462.7" y2="59.92" stroke="#1f4f86" stroke-width="0.9"/>
<circle cx="461" cy="53.2" r="1.3" fill="#1f4f86"/>
<line x1="467.5" y1="43.96" x2="467.5" y2="57.4" stroke="#1f4f86" stroke-width="0.9"/>
<line x1="465.8" y1="43.96" x2="469.2" y2="43.96" stroke="#1f4f86" stroke-width="0.9"/>
<line x1="465.8" y1="57.4" x2="469.2" y2="57.4" stroke="#1f4f86" stroke-width="0.9"/>
<circle cx="467.5" cy="50.68" r="1.3" fill="#1f4f86"/>
<line x1="474" y1="44.8" x2="474" y2="56.56" stroke="#1f4f86" stroke-width="0.9"/>
<line x1="472.3" y1="44.8" x2="475.7" y2="44.8" stroke="#1f4f86" stroke-width="0.9"/>
<line x1="472.3" y1="56.56" x2="475.7" y2="56.56" stroke="#1f4f86" stroke-width="0.9"/>
<circle cx="474" cy="50.68" r="1.3" fill="#1f4f86"/>
<line x1="480.5" y1="42.28" x2="480.5" y2="52.36" stroke="#1f4f86" stroke-width="0.9"/>
<line x1="478.8" y1="42.28" x2="482.2" y2="42.28" stroke="#1f4f86" stroke-width="0.9"/>
<line x1="478.8" y1="52.36" x2="482.2" y2="52.36" stroke="#1f4f86" stroke-width="0.9"/>
<circle cx="480.5" cy="47.32" r="1.3" fill="#1f4f86"/>
<line x1="487" y1="43.96" x2="487" y2="55.72" stroke="#1f4f86" stroke-width="0.9"/>
<line x1="485.3" y1="43.96" x2="488.7" y2="43.96" stroke="#1f4f86" stroke-width="0.9"/>
<line x1="485.3" y1="55.72" x2="488.7" y2="55.72" stroke="#1f4f86" stroke-width="0.9"/>
<circle cx="487" cy="49.84" r="1.3" fill="#1f4f86"/>
<line x1="493.5" y1="38.92" x2="493.5" y2="52.36" stroke="#1f4f86" stroke-width="0.9"/>
<line x1="491.8" y1="38.92" x2="495.2" y2="38.92" stroke="#1f4f86" stroke-width="0.9"/>
<line x1="491.8" y1="52.36" x2="495.2" y2="52.36" stroke="#1f4f86" stroke-width="0.9"/>
<circle cx="493.5" cy="45.64" r="1.3" fill="#1f4f86"/>
<line x1="500" y1="37.24" x2="500" y2="50.68" stroke="#1f4f86" stroke-width="0.9"/>
<line x1="498.3" y1="37.24" x2="501.7" y2="37.24" stroke="#1f4f86" stroke-width="0.9"/>
<line x1="498.3" y1="50.68" x2="501.7" y2="50.68" stroke="#1f4f86" stroke-width="0.9"/>
<circle cx="500" cy="43.96" r="1.3" fill="#1f4f86"/>
<line x1="387" y1="17" x2="396" y2="17" stroke="#4cb04c" stroke-width="1"/>
<line x1="387" y1="28" x2="396" y2="28" stroke="#2f5a8c" stroke-width="1"/>
<line x1="387" y1="38.6" x2="396" y2="38.6" stroke="#d04a62" stroke-width="1" stroke-dasharray="2.8,1.8"/>
<text x="399" y="19.8" font-size="7.6" text-anchor="start" fill="#231f20" font-weight="normal" textLength="11.8" lengthAdjust="spacingAndGlyphs">BM</text>
<text x="399" y="30.8" font-size="7.6" text-anchor="start" fill="#231f20" font-weight="normal" textLength="26.6" lengthAdjust="spacingAndGlyphs">BM + T</text>
<text x="399" y="41.4" font-size="7.6" text-anchor="start" fill="#231f20" font-weight="normal" textLength="47.8" lengthAdjust="spacingAndGlyphs">BM + T + rLIF</text>
<polyline points="449.6,26 452.2,26 452.2,38 449.6,38" fill="none" stroke="#231f20" stroke-width="0.9" stroke-linejoin="round"/>
<circle cx="455.3" cy="27.2" r="1.1" fill="#231f20"/>
<circle cx="455.3" cy="30.8" r="1.1" fill="#231f20"/>
<circle cx="455.3" cy="34.4" r="1.1" fill="#231f20"/>
<text x="313.3" y="163.2" font-size="11.6" text-anchor="start" fill="#000" font-weight="bold">G</text>
<text x="417" y="163.2" font-size="10.2" text-anchor="middle" fill="#231f20" font-weight="normal" textLength="46" lengthAdjust="spacingAndGlyphs">Balb to B6</text>
<line x1="346.4" y1="180" x2="346.4" y2="272.7" stroke="#231f20" stroke-width="1.3"/>
<line x1="343.4" y1="188.4" x2="346.4" y2="188.4" stroke="#231f20" stroke-width="0.9"/>
<text x="340.4" y="191.3" font-size="8.2" text-anchor="end" fill="#231f20" font-weight="normal">100</text>
<line x1="343.4" y1="230.15" x2="346.4" y2="230.15" stroke="#231f20" stroke-width="0.9"/>
<text x="340.4" y="233.05" font-size="8.2" text-anchor="end" fill="#231f20" font-weight="normal">50</text>
<line x1="343.4" y1="271.9" x2="346.4" y2="271.9" stroke="#231f20" stroke-width="0.9"/>
<text x="340.4" y="274.8" font-size="8.2" text-anchor="end" fill="#231f20" font-weight="normal">0</text>
<line x1="345.9" y1="272.2" x2="486" y2="272.2" stroke="#231f20" stroke-width="1.3"/>
<line x1="346.4" y1="272.2" x2="346.4" y2="275.2" stroke="#231f20" stroke-width="0.9"/>
<text x="346.4" y="285.6" font-size="8.2" text-anchor="middle" fill="#231f20" font-weight="normal">0</text>
<line x1="381.15" y1="272.2" x2="381.15" y2="275.2" stroke="#231f20" stroke-width="0.9"/>
<text x="381.15" y="285.6" font-size="8.2" text-anchor="middle" fill="#231f20" font-weight="normal">20</text>
<line x1="415.9" y1="272.2" x2="415.9" y2="275.2" stroke="#231f20" stroke-width="0.9"/>
<text x="415.9" y="285.6" font-size="8.2" text-anchor="middle" fill="#231f20" font-weight="normal">40</text>
<line x1="450.65" y1="272.2" x2="450.65" y2="275.2" stroke="#231f20" stroke-width="0.9"/>
<text x="450.65" y="285.6" font-size="8.2" text-anchor="middle" fill="#231f20" font-weight="normal">60</text>
<line x1="485.4" y1="272.2" x2="485.4" y2="275.2" stroke="#231f20" stroke-width="0.9"/>
<text x="485.4" y="285.6" font-size="8.2" text-anchor="middle" fill="#231f20" font-weight="normal">80</text>
<text x="417.6" y="299.7" font-size="9.8" text-anchor="middle" fill="#231f20" font-weight="normal" textLength="51.4" lengthAdjust="spacingAndGlyphs">Days post BMT</text>
<text transform="translate(320.6 225.9) rotate(-90)" x="0" y="0" font-size="9.4" text-anchor="middle" fill="#231f20" font-weight="normal" textLength="68.4" lengthAdjust="spacingAndGlyphs">Percent survival (%)</text>
<polyline points="346.4,188.4 379.93,188.4 379.93,200.34 408.95,200.34 408.95,212.28 413.29,212.28 413.29,224.22 417.29,224.22 417.29,248.02 451.52,248.02 451.52,259.96 459.34,259.96" fill="none" stroke="#cc3350" stroke-width="1.1" stroke-linejoin="round"/>
<polyline points="346.4,188.4 429.45,188.4 429.45,203.43 432.93,203.43 432.93,211.2 446.31,211.2 446.31,218.79 459.34,218.79" fill="none" stroke="#4a76a6" stroke-width="1.1" stroke-linejoin="round"/>
<text x="453.6" y="184" font-size="8.2" text-anchor="start" fill="#231f20" font-weight="normal" textLength="35.5" lengthAdjust="spacingAndGlyphs">Recipient:</text>
<line x1="453.4" y1="193.4" x2="465.5" y2="193.4" stroke="#4a76a6" stroke-width="1"/>
<line x1="453.4" y1="205.5" x2="465.5" y2="205.5" stroke="#cc3350" stroke-width="1"/>
<text x="469" y="196.2" font-size="8.2" text-anchor="start" fill="#231f20" font-weight="normal" textLength="12" lengthAdjust="spacingAndGlyphs">WT</text>
<text x="469" y="208.3" font-size="8.2" text-anchor="start" fill="#231f20" font-weight="normal" textLength="24" lengthAdjust="spacingAndGlyphs">LIF-KO</text>
<polyline points="499.6,191 502,191 502,205.5 499.6,205.5" fill="none" stroke="#231f20" stroke-width="0.9" stroke-linejoin="round"/>
<circle cx="506.2" cy="196.4" r="1.1" fill="#231f20"/>
<circle cx="506.2" cy="200.4" r="1.1" fill="#231f20"/>
<line x1="346.4" y1="317" x2="346.4" y2="419.3" stroke="#231f20" stroke-width="1.3"/>
<line x1="343.4" y1="319.6" x2="346.4" y2="319.6" stroke="#231f20" stroke-width="0.9"/>
<text x="340.4" y="322.5" font-size="8.2" text-anchor="end" fill="#231f20" font-weight="normal">5</text>
<line x1="343.4" y1="338.68" x2="346.4" y2="338.68" stroke="#231f20" stroke-width="0.9"/>
<text x="340.4" y="341.58" font-size="8.2" text-anchor="end" fill="#231f20" font-weight="normal">4</text>
<line x1="343.4" y1="357.76" x2="346.4" y2="357.76" stroke="#231f20" stroke-width="0.9"/>
<text x="340.4" y="360.66" font-size="8.2" text-anchor="end" fill="#231f20" font-weight="normal">3</text>
<line x1="343.4" y1="376.84" x2="346.4" y2="376.84" stroke="#231f20" stroke-width="0.9"/>
<text x="340.4" y="379.74" font-size="8.2" text-anchor="end" fill="#231f20" font-weight="normal">2</text>
<line x1="343.4" y1="395.92" x2="346.4" y2="395.92" stroke="#231f20" stroke-width="0.9"/>
<text x="340.4" y="398.82" font-size="8.2" text-anchor="end" fill="#231f20" font-weight="normal">1</text>
<line x1="343.4" y1="415" x2="346.4" y2="415" stroke="#231f20" stroke-width="0.9"/>
<text x="340.4" y="417.9" font-size="8.2" text-anchor="end" fill="#231f20" font-weight="normal">0</text>
<line x1="345.9" y1="418.8" x2="497" y2="418.8" stroke="#231f20" stroke-width="1.3"/>
<line x1="346.5" y1="418.8" x2="346.5" y2="421.8" stroke="#231f20" stroke-width="0.9"/>
<text x="346.5" y="432.2" font-size="8.2" text-anchor="middle" fill="#231f20" font-weight="normal">0</text>
<line x1="383.5" y1="418.8" x2="383.5" y2="421.8" stroke="#231f20" stroke-width="0.9"/>
<text x="383.5" y="432.2" font-size="8.2" text-anchor="middle" fill="#231f20" font-weight="normal">20</text>
<line x1="420.5" y1="418.8" x2="420.5" y2="421.8" stroke="#231f20" stroke-width="0.9"/>
<text x="420.5" y="432.2" font-size="8.2" text-anchor="middle" fill="#231f20" font-weight="normal">40</text>
<line x1="457.5" y1="418.8" x2="457.5" y2="421.8" stroke="#231f20" stroke-width="0.9"/>
<text x="457.5" y="432.2" font-size="8.2" text-anchor="middle" fill="#231f20" font-weight="normal">60</text>
<line x1="494.5" y1="418.8" x2="494.5" y2="421.8" stroke="#231f20" stroke-width="0.9"/>
<text x="494.5" y="432.2" font-size="8.2" text-anchor="middle" fill="#231f20" font-weight="normal">80</text>
<text x="422.4" y="445.9" font-size="9.8" text-anchor="middle" fill="#231f20" font-weight="normal" textLength="51.2" lengthAdjust="spacingAndGlyphs">Days post BMT</text>
<text transform="translate(324.2 367.9) rotate(-90)" x="0" y="0" font-size="10" text-anchor="middle" fill="#231f20" font-weight="normal" textLength="39.5" lengthAdjust="spacingAndGlyphs">GVHD score</text>
<polyline points="346.5,415 355.75,415 365,409.28 374.25,403.55 383.5,394.01 392.75,369.21 402,357.76 411.25,336.39 420.5,336.39 429.75,327.8 439,327.8 448.25,327.8 457.5,325.32 466.75,325.32" fill="none" stroke="#cc1f40" stroke-width="1.2" stroke-linejoin="round"/>
<line x1="365" y1="403.93" x2="365" y2="414.62" stroke="#cc1f40" stroke-width="1"/>
<line x1="362.5" y1="403.93" x2="367.5" y2="403.93" stroke="#cc1f40" stroke-width="1"/>
<line x1="362.5" y1="414.62" x2="367.5" y2="414.62" stroke="#cc1f40" stroke-width="1"/>
<circle cx="365" cy="409.28" r="1.5" fill="#c8102e"/>
<line x1="374.25" y1="393.06" x2="374.25" y2="414.05" stroke="#cc1f40" stroke-width="1"/>
<line x1="371.75" y1="393.06" x2="376.75" y2="393.06" stroke="#cc1f40" stroke-width="1"/>
<line x1="371.75" y1="414.05" x2="376.75" y2="414.05" stroke="#cc1f40" stroke-width="1"/>
<circle cx="374.25" cy="403.55" r="1.5" fill="#c8102e"/>
<line x1="383.5" y1="380.66" x2="383.5" y2="407.37" stroke="#cc1f40" stroke-width="1"/>
<line x1="381" y1="380.66" x2="386" y2="380.66" stroke="#cc1f40" stroke-width="1"/>
<line x1="381" y1="407.37" x2="386" y2="407.37" stroke="#cc1f40" stroke-width="1"/>
<circle cx="383.5" cy="394.01" r="1.5" fill="#c8102e"/>
<line x1="392.75" y1="356.81" x2="392.75" y2="381.61" stroke="#cc1f40" stroke-width="1"/>
<line x1="390.25" y1="356.81" x2="395.25" y2="356.81" stroke="#cc1f40" stroke-width="1"/>
<line x1="390.25" y1="381.61" x2="395.25" y2="381.61" stroke="#cc1f40" stroke-width="1"/>
<circle cx="392.75" cy="369.21" r="1.5" fill="#c8102e"/>
<line x1="402" y1="348.22" x2="402" y2="367.3" stroke="#cc1f40" stroke-width="1"/>
<line x1="399.5" y1="348.22" x2="404.5" y2="348.22" stroke="#cc1f40" stroke-width="1"/>
<line x1="399.5" y1="367.3" x2="404.5" y2="367.3" stroke="#cc1f40" stroke-width="1"/>
<circle cx="402" cy="357.76" r="1.5" fill="#c8102e"/>
<line x1="411.25" y1="330.67" x2="411.25" y2="342.11" stroke="#cc1f40" stroke-width="1"/>
<line x1="408.75" y1="330.67" x2="413.75" y2="330.67" stroke="#cc1f40" stroke-width="1"/>
<line x1="408.75" y1="342.11" x2="413.75" y2="342.11" stroke="#cc1f40" stroke-width="1"/>
<circle cx="411.25" cy="336.39" r="1.5" fill="#c8102e"/>
<line x1="420.5" y1="328.76" x2="420.5" y2="344.02" stroke="#cc1f40" stroke-width="1"/>
<line x1="418" y1="328.76" x2="423" y2="328.76" stroke="#cc1f40" stroke-width="1"/>
<line x1="418" y1="344.02" x2="423" y2="344.02" stroke="#cc1f40" stroke-width="1"/>
<circle cx="420.5" cy="336.39" r="1.5" fill="#c8102e"/>
<line x1="429.75" y1="322.08" x2="429.75" y2="333.53" stroke="#cc1f40" stroke-width="1"/>
<line x1="427.25" y1="322.08" x2="432.25" y2="322.08" stroke="#cc1f40" stroke-width="1"/>
<line x1="427.25" y1="333.53" x2="432.25" y2="333.53" stroke="#cc1f40" stroke-width="1"/>
<circle cx="429.75" cy="327.8" r="1.5" fill="#c8102e"/>
<line x1="439" y1="322.08" x2="439" y2="333.53" stroke="#cc1f40" stroke-width="1"/>
<line x1="436.5" y1="322.08" x2="441.5" y2="322.08" stroke="#cc1f40" stroke-width="1"/>
<line x1="436.5" y1="333.53" x2="441.5" y2="333.53" stroke="#cc1f40" stroke-width="1"/>
<circle cx="439" cy="327.8" r="1.5" fill="#c8102e"/>
<line x1="448.25" y1="322.08" x2="448.25" y2="333.53" stroke="#cc1f40" stroke-width="1"/>
<line x1="445.75" y1="322.08" x2="450.75" y2="322.08" stroke="#cc1f40" stroke-width="1"/>
<line x1="445.75" y1="333.53" x2="450.75" y2="333.53" stroke="#cc1f40" stroke-width="1"/>
<circle cx="448.25" cy="327.8" r="1.5" fill="#c8102e"/>
<line x1="457.5" y1="319.6" x2="457.5" y2="331.05" stroke="#cc1f40" stroke-width="1"/>
<line x1="455" y1="319.6" x2="460" y2="319.6" stroke="#cc1f40" stroke-width="1"/>
<line x1="455" y1="331.05" x2="460" y2="331.05" stroke="#cc1f40" stroke-width="1"/>
<circle cx="457.5" cy="325.32" r="1.5" fill="#c8102e"/>
<line x1="466.75" y1="319.6" x2="466.75" y2="331.05" stroke="#cc1f40" stroke-width="1"/>
<line x1="464.25" y1="319.6" x2="469.25" y2="319.6" stroke="#cc1f40" stroke-width="1"/>
<line x1="464.25" y1="331.05" x2="469.25" y2="331.05" stroke="#cc1f40" stroke-width="1"/>
<circle cx="466.75" cy="325.32" r="1.5" fill="#c8102e"/>
<polyline points="346.5,415 355.75,415 365,415 374.25,411.18 383.5,407.37 392.75,399.35 402,397.45 411.25,390.2 420.5,390.2 429.75,380.66 439,369.21 448.25,365.39 457.5,348.22 466.75,346.31" fill="none" stroke="#1f4f86" stroke-width="1.2" stroke-linejoin="round"/>
<circle cx="346.5" cy="415" r="1.9" fill="#133f70"/>
<circle cx="355.75" cy="415" r="1.9" fill="#133f70"/>
<circle cx="365" cy="415" r="1.9" fill="#133f70"/>
<line x1="374.25" y1="408.32" x2="374.25" y2="414.05" stroke="#1f4f86" stroke-width="1"/>
<line x1="371.75" y1="408.32" x2="376.75" y2="408.32" stroke="#1f4f86" stroke-width="1"/>
<line x1="371.75" y1="414.05" x2="376.75" y2="414.05" stroke="#1f4f86" stroke-width="1"/>
<circle cx="374.25" cy="411.18" r="1.9" fill="#133f70"/>
<line x1="383.5" y1="403.55" x2="383.5" y2="411.18" stroke="#1f4f86" stroke-width="1"/>
<line x1="381" y1="403.55" x2="386" y2="403.55" stroke="#1f4f86" stroke-width="1"/>
<line x1="381" y1="411.18" x2="386" y2="411.18" stroke="#1f4f86" stroke-width="1"/>
<circle cx="383.5" cy="407.37" r="1.9" fill="#133f70"/>
<line x1="392.75" y1="394.58" x2="392.75" y2="404.12" stroke="#1f4f86" stroke-width="1"/>
<line x1="390.25" y1="394.58" x2="395.25" y2="394.58" stroke="#1f4f86" stroke-width="1"/>
<line x1="390.25" y1="404.12" x2="395.25" y2="404.12" stroke="#1f4f86" stroke-width="1"/>
<circle cx="392.75" cy="399.35" r="1.9" fill="#133f70"/>
<line x1="402" y1="391.72" x2="402" y2="403.17" stroke="#1f4f86" stroke-width="1"/>
<line x1="399.5" y1="391.72" x2="404.5" y2="391.72" stroke="#1f4f86" stroke-width="1"/>
<line x1="399.5" y1="403.17" x2="404.5" y2="403.17" stroke="#1f4f86" stroke-width="1"/>
<circle cx="402" cy="397.45" r="1.9" fill="#133f70"/>
<line x1="411.25" y1="384.47" x2="411.25" y2="395.92" stroke="#1f4f86" stroke-width="1"/>
<line x1="408.75" y1="384.47" x2="413.75" y2="384.47" stroke="#1f4f86" stroke-width="1"/>
<line x1="408.75" y1="395.92" x2="413.75" y2="395.92" stroke="#1f4f86" stroke-width="1"/>
<circle cx="411.25" cy="390.2" r="1.9" fill="#133f70"/>
<line x1="420.5" y1="384.47" x2="420.5" y2="395.92" stroke="#1f4f86" stroke-width="1"/>
<line x1="418" y1="384.47" x2="423" y2="384.47" stroke="#1f4f86" stroke-width="1"/>
<line x1="418" y1="395.92" x2="423" y2="395.92" stroke="#1f4f86" stroke-width="1"/>
<circle cx="420.5" cy="390.2" r="1.9" fill="#133f70"/>
<line x1="429.75" y1="372.64" x2="429.75" y2="388.67" stroke="#1f4f86" stroke-width="1"/>
<line x1="427.25" y1="372.64" x2="432.25" y2="372.64" stroke="#1f4f86" stroke-width="1"/>
<line x1="427.25" y1="388.67" x2="432.25" y2="388.67" stroke="#1f4f86" stroke-width="1"/>
<circle cx="429.75" cy="380.66" r="1.9" fill="#133f70"/>
<line x1="439" y1="357.76" x2="439" y2="380.66" stroke="#1f4f86" stroke-width="1"/>
<line x1="436.5" y1="357.76" x2="441.5" y2="357.76" stroke="#1f4f86" stroke-width="1"/>
<line x1="436.5" y1="380.66" x2="441.5" y2="380.66" stroke="#1f4f86" stroke-width="1"/>
<circle cx="439" cy="369.21" r="1.9" fill="#133f70"/>
<line x1="448.25" y1="353.94" x2="448.25" y2="376.84" stroke="#1f4f86" stroke-width="1"/>
<line x1="445.75" y1="353.94" x2="450.75" y2="353.94" stroke="#1f4f86" stroke-width="1"/>
<line x1="445.75" y1="376.84" x2="450.75" y2="376.84" stroke="#1f4f86" stroke-width="1"/>
<circle cx="448.25" cy="365.39" r="1.9" fill="#133f70"/>
<line x1="457.5" y1="338.68" x2="457.5" y2="357.76" stroke="#1f4f86" stroke-width="1"/>
<line x1="455" y1="338.68" x2="460" y2="338.68" stroke="#1f4f86" stroke-width="1"/>
<line x1="455" y1="357.76" x2="460" y2="357.76" stroke="#1f4f86" stroke-width="1"/>
<circle cx="457.5" cy="348.22" r="1.9" fill="#133f70"/>
<line x1="466.75" y1="336.77" x2="466.75" y2="355.85" stroke="#1f4f86" stroke-width="1"/>
<line x1="464.25" y1="336.77" x2="469.25" y2="336.77" stroke="#1f4f86" stroke-width="1"/>
<line x1="464.25" y1="355.85" x2="469.25" y2="355.85" stroke="#1f4f86" stroke-width="1"/>
<circle cx="466.75" cy="346.31" r="1.9" fill="#133f70"/>
<text x="392.75" y="356.1" font-size="9" text-anchor="middle" fill="#231f20" font-weight="normal" textLength="3.5" lengthAdjust="spacingAndGlyphs">*</text>
<text x="402" y="347.8" font-size="9" text-anchor="middle" fill="#231f20" font-weight="normal" textLength="7" lengthAdjust="spacingAndGlyphs">**</text>
<text x="411.25" y="331.6" font-size="9" text-anchor="middle" fill="#231f20" font-weight="normal" textLength="10.5" lengthAdjust="spacingAndGlyphs">***</text>
<text x="420.5" y="326.6" font-size="9" text-anchor="middle" fill="#231f20" font-weight="normal" textLength="10.5" lengthAdjust="spacingAndGlyphs">***</text>
<text x="429.75" y="318.8" font-size="9" text-anchor="middle" fill="#231f20" font-weight="normal" textLength="10.5" lengthAdjust="spacingAndGlyphs">***</text>
<text x="439" y="323.4" font-size="9" text-anchor="middle" fill="#231f20" font-weight="normal" textLength="7" lengthAdjust="spacingAndGlyphs">**</text>
<text x="448.25" y="323.4" font-size="9" text-anchor="middle" fill="#231f20" font-weight="normal" textLength="3.5" lengthAdjust="spacingAndGlyphs">*</text>
<text x="464.4" y="380.4" font-size="8.2" text-anchor="start" fill="#231f20" font-weight="normal" textLength="36" lengthAdjust="spacingAndGlyphs">Recipient:</text>
<line x1="464.6" y1="389.4" x2="476.7" y2="389.4" stroke="#4a76a6" stroke-width="1"/>
<line x1="464.6" y1="401.2" x2="476.7" y2="401.2" stroke="#cc3350" stroke-width="1"/>
<text x="480.5" y="392.2" font-size="8.2" text-anchor="start" fill="#231f20" font-weight="normal" textLength="11.5" lengthAdjust="spacingAndGlyphs">WT</text>
<text x="480.5" y="404" font-size="8.2" text-anchor="start" fill="#231f20" font-weight="normal" textLength="24" lengthAdjust="spacingAndGlyphs">LIF-KO</text>
<text x="1.8" y="459.2" font-size="11.6" text-anchor="start" fill="#000" font-weight="bold">F</text>
<rect x="158.6" y="458.4" width="4.2" height="4" fill="#3aa63a" stroke="none" stroke-width="1"/>
<text x="166.7" y="463.6" font-size="7.8" text-anchor="start" fill="#231f20" font-weight="normal" textLength="11.3" lengthAdjust="spacingAndGlyphs">BM</text>
<circle cx="188" cy="460.4" r="2.3" fill="#123f6e"/>
<text x="193.8" y="463.6" font-size="7.8" text-anchor="start" fill="#231f20" font-weight="normal" textLength="25" lengthAdjust="spacingAndGlyphs">BM + T</text>
<polygon points="229.8,457.6 227.3,462.4 232.3,462.4" fill="#c8102e"/>
<text x="235.8" y="463.6" font-size="7.8" text-anchor="start" fill="#231f20" font-weight="normal" textLength="48" lengthAdjust="spacingAndGlyphs">BM + T + rLIF</text>
<text transform="translate(19.2 539.5) rotate(-90)" x="0" y="0" font-size="9" text-anchor="middle" fill="#231f20" font-weight="normal" textLength="45" lengthAdjust="spacingAndGlyphs">Clinical score</text>
<line x1="40.7" y1="478" x2="40.7" y2="600.9" stroke="#231f20" stroke-width="1.3"/>
<line x1="37.7" y1="599.5" x2="40.7" y2="599.5" stroke="#231f20" stroke-width="0.9"/>
<text x="34.7" y="602.4" font-size="8.2" text-anchor="end" fill="#231f20" font-weight="normal">0</text>
<line x1="37.7" y1="575.76" x2="40.7" y2="575.76" stroke="#231f20" stroke-width="0.9"/>
<text x="34.7" y="578.66" font-size="8.2" text-anchor="end" fill="#231f20" font-weight="normal">5</text>
<line x1="37.7" y1="552.02" x2="40.7" y2="552.02" stroke="#231f20" stroke-width="0.9"/>
<text x="34.7" y="554.92" font-size="8.2" text-anchor="end" fill="#231f20" font-weight="normal">10</text>
<line x1="37.7" y1="528.28" x2="40.7" y2="528.28" stroke="#231f20" stroke-width="0.9"/>
<text x="34.7" y="531.18" font-size="8.2" text-anchor="end" fill="#231f20" font-weight="normal">15</text>
<line x1="37.7" y1="504.54" x2="40.7" y2="504.54" stroke="#231f20" stroke-width="0.9"/>
<text x="34.7" y="507.44" font-size="8.2" text-anchor="end" fill="#231f20" font-weight="normal">20</text>
<line x1="37.7" y1="480.8" x2="40.7" y2="480.8" stroke="#231f20" stroke-width="0.9"/>
<text x="34.7" y="483.7" font-size="8.2" text-anchor="end" fill="#231f20" font-weight="normal">25</text>
<line x1="40.2" y1="600.4" x2="95" y2="600.4" stroke="#231f20" stroke-width="1.3"/>
<rect x="47.5" y="592.85" width="9.7" height="7.25" fill="#3aa63a" stroke="none" stroke-width="1"/>
<rect x="45.9" y="596.3" width="2" height="3.8" fill="#3aa63a" stroke="none" stroke-width="1"/>
<rect x="62.8" y="518.31" width="10.8" height="81.49" fill="none" stroke="#3f6fa3" stroke-width="1"/>
<line x1="68.2" y1="503.12" x2="68.2" y2="533.03" stroke="#2f5f96" stroke-width="1"/>
<line x1="66" y1="503.12" x2="70.4" y2="503.12" stroke="#2f5f96" stroke-width="1"/>
<line x1="66" y1="533.03" x2="70.4" y2="533.03" stroke="#2f5f96" stroke-width="1"/>
<circle cx="66.7" cy="495.04" r="2.2" fill="#123f6e"/>
<circle cx="69.7" cy="495.04" r="2.2" fill="#123f6e"/>
<circle cx="66.4" cy="518.78" r="2.2" fill="#123f6e"/>
<circle cx="70" cy="518.78" r="2.2" fill="#123f6e"/>
<circle cx="64.7" cy="523.53" r="2.2" fill="#123f6e"/>
<circle cx="66.4" cy="528.28" r="2.2" fill="#123f6e"/>
<circle cx="70" cy="528.28" r="2.2" fill="#123f6e"/>
<circle cx="68.2" cy="537.78" r="2.2" fill="#123f6e"/>
<rect x="79.6" y="551.07" width="9.9" height="48.73" fill="none" stroke="#cf2f4b" stroke-width="1"/>
<line x1="84.55" y1="526.38" x2="84.55" y2="575.76" stroke="#c8243f" stroke-width="1"/>
<line x1="82.35" y1="526.38" x2="86.75" y2="526.38" stroke="#c8243f" stroke-width="1"/>
<line x1="82.35" y1="575.76" x2="86.75" y2="575.76" stroke="#c8243f" stroke-width="1"/>
<polygon points="87.45,520.71 84.75,525.41 90.15,525.41" fill="#c0062e"/>
<polygon points="80.55,525.46 77.85,530.16 83.25,530.16" fill="#c0062e"/>
<polygon points="87.05,530.21 84.35,534.91 89.75,534.91" fill="#c0062e"/>
<polygon points="84.55,539.71 81.85,544.4 87.25,544.4" fill="#c0062e"/>
<polygon points="87.55,549.2 84.85,553.9 90.25,553.9" fill="#c0062e"/>
<polygon points="81.15,553.95 78.45,558.65 83.85,558.65" fill="#c0062e"/>
<polygon points="84.55,572.94 81.85,577.64 87.25,577.64" fill="#c0062e"/>
<polygon points="84.55,596.68 81.85,601.38 87.25,601.38" fill="#c0062e"/>
<text x="68.05" y="611.6" font-size="8.6" text-anchor="middle" fill="#231f20" font-weight="normal" textLength="54.1" lengthAdjust="spacingAndGlyphs">Small Intestine</text>
<polyline points="53.6,493.6 53.6,478 67.4,478 67.4,483" fill="none" stroke="#231f20" stroke-width="1.1" stroke-linejoin="round"/>
<polyline points="71,483 71,478 85,478 85,493.6" fill="none" stroke="#231f20" stroke-width="1.1" stroke-linejoin="round"/>
<text x="60.5" y="477.1" font-size="9" text-anchor="middle" fill="#231f20" font-weight="normal" textLength="10.5" lengthAdjust="spacingAndGlyphs">***</text>
<text x="78" y="477.1" font-size="9" text-anchor="middle" fill="#231f20" font-weight="normal" textLength="7" lengthAdjust="spacingAndGlyphs">**</text>
<line x1="126.2" y1="478" x2="126.2" y2="600.9" stroke="#231f20" stroke-width="1.3"/>
<line x1="123.2" y1="599.5" x2="126.2" y2="599.5" stroke="#231f20" stroke-width="0.9"/>
<text x="120.2" y="602.4" font-size="8.2" text-anchor="end" fill="#231f20" font-weight="normal">0</text>
<line x1="123.2" y1="575.76" x2="126.2" y2="575.76" stroke="#231f20" stroke-width="0.9"/>
<text x="120.2" y="578.66" font-size="8.2" text-anchor="end" fill="#231f20" font-weight="normal">5</text>
<line x1="123.2" y1="552.02" x2="126.2" y2="552.02" stroke="#231f20" stroke-width="0.9"/>
<text x="120.2" y="554.92" font-size="8.2" text-anchor="end" fill="#231f20" font-weight="normal">10</text>
<line x1="123.2" y1="528.28" x2="126.2" y2="528.28" stroke="#231f20" stroke-width="0.9"/>
<text x="120.2" y="531.18" font-size="8.2" text-anchor="end" fill="#231f20" font-weight="normal">15</text>
<line x1="123.2" y1="504.54" x2="126.2" y2="504.54" stroke="#231f20" stroke-width="0.9"/>
<text x="120.2" y="507.44" font-size="8.2" text-anchor="end" fill="#231f20" font-weight="normal">20</text>
<line x1="123.2" y1="480.8" x2="126.2" y2="480.8" stroke="#231f20" stroke-width="0.9"/>
<text x="120.2" y="483.7" font-size="8.2" text-anchor="end" fill="#231f20" font-weight="normal">25</text>
<line x1="125.7" y1="600.4" x2="180.7" y2="600.4" stroke="#231f20" stroke-width="1.3"/>
<rect x="132.6" y="592.85" width="9.7" height="7.25" fill="#3aa63a" stroke="none" stroke-width="1"/>
<rect x="131" y="596.3" width="2" height="3.8" fill="#3aa63a" stroke="none" stroke-width="1"/>
<rect x="148.4" y="518.78" width="11.1" height="81.02" fill="none" stroke="#3f6fa3" stroke-width="1"/>
<line x1="153.95" y1="506.91" x2="153.95" y2="529.23" stroke="#2f5f96" stroke-width="1"/>
<line x1="151.75" y1="506.91" x2="156.15" y2="506.91" stroke="#2f5f96" stroke-width="1"/>
<line x1="151.75" y1="529.23" x2="156.15" y2="529.23" stroke="#2f5f96" stroke-width="1"/>
<circle cx="153.95" cy="499.79" r="2.2" fill="#123f6e"/>
<circle cx="153.95" cy="509.29" r="2.2" fill="#123f6e"/>
<circle cx="150.75" cy="514.04" r="2.2" fill="#123f6e"/>
<circle cx="157.15" cy="514.04" r="2.2" fill="#123f6e"/>
<circle cx="150.75" cy="518.78" r="2.2" fill="#123f6e"/>
<circle cx="153.95" cy="518.78" r="2.2" fill="#123f6e"/>
<circle cx="157.15" cy="523.53" r="2.2" fill="#123f6e"/>
<circle cx="153.95" cy="528.28" r="2.2" fill="#123f6e"/>
<circle cx="150.75" cy="533.03" r="2.2" fill="#123f6e"/>
<circle cx="157.15" cy="533.03" r="2.2" fill="#123f6e"/>
<rect x="164.1" y="548.7" width="11.5" height="51.1" fill="none" stroke="#cf2f4b" stroke-width="1"/>
<line x1="169.85" y1="523.53" x2="169.85" y2="572.91" stroke="#c8243f" stroke-width="1"/>
<line x1="167.65" y1="523.53" x2="172.05" y2="523.53" stroke="#c8243f" stroke-width="1"/>
<line x1="167.65" y1="572.91" x2="172.05" y2="572.91" stroke="#c8243f" stroke-width="1"/>
<polygon points="168.25,520.71 165.55,525.41 170.95,525.41" fill="#c0062e"/>
<polygon points="171.45,520.71 168.75,525.41 174.15,525.41" fill="#c0062e"/>
<polygon points="166.25,534.96 163.55,539.66 168.95,539.66" fill="#c0062e"/>
<polygon points="170.65,539.71 167.95,544.4 173.35,544.4" fill="#c0062e"/>
<polygon points="166.25,544.45 163.55,549.15 168.95,549.15" fill="#c0062e"/>
<polygon points="170.65,544.45 167.95,549.15 173.35,549.15" fill="#c0062e"/>
<polygon points="173.85,544.45 171.15,549.15 176.55,549.15" fill="#c0062e"/>
<polygon points="169.85,558.7 167.15,563.4 172.55,563.4" fill="#c0062e"/>
<polygon points="169.85,596.68 167.15,601.38 172.55,601.38" fill="#c0062e"/>
<text x="153.4" y="611.6" font-size="8.6" text-anchor="middle" fill="#231f20" font-weight="normal" textLength="22.2" lengthAdjust="spacingAndGlyphs">Colon</text>
<polyline points="138.6,493.6 138.6,478 152.4,478 152.4,483" fill="none" stroke="#231f20" stroke-width="1.1" stroke-linejoin="round"/>
<polyline points="156.4,483 156.4,478 170.4,478 170.4,493.6" fill="none" stroke="#231f20" stroke-width="1.1" stroke-linejoin="round"/>
<text x="145.5" y="477.1" font-size="9" text-anchor="middle" fill="#231f20" font-weight="normal" textLength="10.5" lengthAdjust="spacingAndGlyphs">***</text>
<text x="163.4" y="477.1" font-size="9" text-anchor="middle" fill="#231f20" font-weight="normal" textLength="3.5" lengthAdjust="spacingAndGlyphs">*</text>
<line x1="211.6" y1="478" x2="211.6" y2="600.9" stroke="#231f20" stroke-width="1.3"/>
<line x1="208.6" y1="599.5" x2="211.6" y2="599.5" stroke="#231f20" stroke-width="0.9"/>
<text x="205.6" y="602.4" font-size="8.2" text-anchor="end" fill="#231f20" font-weight="normal">0</text>
<line x1="208.6" y1="570.12" x2="211.6" y2="570.12" stroke="#231f20" stroke-width="0.9"/>
<text x="205.6" y="573.02" font-size="8.2" text-anchor="end" fill="#231f20" font-weight="normal">10</text>
<line x1="208.6" y1="540.75" x2="211.6" y2="540.75" stroke="#231f20" stroke-width="0.9"/>
<text x="205.6" y="543.65" font-size="8.2" text-anchor="end" fill="#231f20" font-weight="normal">20</text>
<line x1="208.6" y1="511.38" x2="211.6" y2="511.38" stroke="#231f20" stroke-width="0.9"/>
<text x="205.6" y="514.27" font-size="8.2" text-anchor="end" fill="#231f20" font-weight="normal">30</text>
<line x1="208.6" y1="482" x2="211.6" y2="482" stroke="#231f20" stroke-width="0.9"/>
<text x="205.6" y="484.9" font-size="8.2" text-anchor="end" fill="#231f20" font-weight="normal">40</text>
<line x1="211.1" y1="600.4" x2="266.7" y2="600.4" stroke="#231f20" stroke-width="1.3"/>
<rect x="217.6" y="596.9" width="10.7" height="3.2" fill="#3aa63a" stroke="none" stroke-width="1"/>
<rect x="233.8" y="528.12" width="10.7" height="71.68" fill="none" stroke="#3f6fa3" stroke-width="1"/>
<line x1="239.15" y1="516.66" x2="239.15" y2="539.87" stroke="#2f5f96" stroke-width="1"/>
<line x1="236.95" y1="516.66" x2="241.35" y2="516.66" stroke="#2f5f96" stroke-width="1"/>
<line x1="236.95" y1="539.87" x2="241.35" y2="539.87" stroke="#2f5f96" stroke-width="1"/>
<circle cx="235.95" cy="514.31" r="2.2" fill="#123f6e"/>
<circle cx="239.65" cy="517.25" r="2.2" fill="#123f6e"/>
<circle cx="235.95" cy="520.19" r="2.2" fill="#123f6e"/>
<circle cx="242.35" cy="520.19" r="2.2" fill="#123f6e"/>
<circle cx="239.15" cy="531.94" r="2.2" fill="#123f6e"/>
<circle cx="235.95" cy="537.81" r="2.2" fill="#123f6e"/>
<circle cx="241.15" cy="540.75" r="2.2" fill="#123f6e"/>
<circle cx="239.15" cy="546.62" r="2.2" fill="#123f6e"/>
<rect x="250.5" y="551.03" width="10.1" height="48.77" fill="none" stroke="#cf2f4b" stroke-width="1"/>
<line x1="255.55" y1="532.82" x2="255.55" y2="568.95" stroke="#c8243f" stroke-width="1"/>
<line x1="253.35" y1="532.82" x2="257.75" y2="532.82" stroke="#c8243f" stroke-width="1"/>
<line x1="253.35" y1="568.95" x2="257.75" y2="568.95" stroke="#c8243f" stroke-width="1"/>
<polygon points="252.95,537.93 250.25,542.63 255.65,542.63" fill="#c0062e"/>
<polygon points="258.15,537.93 255.45,542.63 260.85,542.63" fill="#c0062e"/>
<polygon points="257.55,543.81 254.85,548.5 260.25,548.5" fill="#c0062e"/>
<polygon points="255.55,552.62 252.85,557.32 258.25,557.32" fill="#c0062e"/>
<polygon points="255.55,590.81 252.85,595.5 258.25,595.5" fill="#c0062e"/>
<text x="239.5" y="611.6" font-size="8.6" text-anchor="middle" fill="#231f20" font-weight="normal" textLength="17" lengthAdjust="spacingAndGlyphs">Liver</text>
<polyline points="222.6,493.6 222.6,478 236.6,478 236.6,483" fill="none" stroke="#231f20" stroke-width="1.1" stroke-linejoin="round"/>
<polyline points="240.4,483 240.4,478 254.4,478 254.4,493.6" fill="none" stroke="#231f20" stroke-width="1.1" stroke-linejoin="round"/>
<text x="229.6" y="477.1" font-size="9" text-anchor="middle" fill="#231f20" font-weight="normal" textLength="10.5" lengthAdjust="spacingAndGlyphs">***</text>
<text x="247.4" y="477.1" font-size="9" text-anchor="middle" fill="#231f20" font-weight="normal" textLength="3.5" lengthAdjust="spacingAndGlyphs">*</text>
<line x1="298" y1="478" x2="298" y2="600.9" stroke="#231f20" stroke-width="1.3"/>
<line x1="295" y1="599.5" x2="298" y2="599.5" stroke="#231f20" stroke-width="0.9"/>
<text x="292" y="602.4" font-size="8.2" text-anchor="end" fill="#231f20" font-weight="normal">0</text>
<line x1="295" y1="575.76" x2="298" y2="575.76" stroke="#231f20" stroke-width="0.9"/>
<text x="292" y="578.66" font-size="8.2" text-anchor="end" fill="#231f20" font-weight="normal">5</text>
<line x1="295" y1="552.02" x2="298" y2="552.02" stroke="#231f20" stroke-width="0.9"/>
<text x="292" y="554.92" font-size="8.2" text-anchor="end" fill="#231f20" font-weight="normal">10</text>
<line x1="295" y1="528.28" x2="298" y2="528.28" stroke="#231f20" stroke-width="0.9"/>
<text x="292" y="531.18" font-size="8.2" text-anchor="end" fill="#231f20" font-weight="normal">15</text>
<line x1="295" y1="504.54" x2="298" y2="504.54" stroke="#231f20" stroke-width="0.9"/>
<text x="292" y="507.44" font-size="8.2" text-anchor="end" fill="#231f20" font-weight="normal">20</text>
<line x1="295" y1="480.8" x2="298" y2="480.8" stroke="#231f20" stroke-width="0.9"/>
<text x="292" y="483.7" font-size="8.2" text-anchor="end" fill="#231f20" font-weight="normal">25</text>
<line x1="297.5" y1="600.4" x2="351.5" y2="600.4" stroke="#231f20" stroke-width="1.3"/>
<rect x="303.8" y="596.9" width="10.1" height="3.2" fill="#3aa63a" stroke="none" stroke-width="1"/>
<rect x="319.6" y="536.83" width="11.4" height="62.97" fill="none" stroke="#3f6fa3" stroke-width="1"/>
<line x1="325.3" y1="522.11" x2="325.3" y2="552.97" stroke="#2f5f96" stroke-width="1"/>
<line x1="323.1" y1="522.11" x2="327.5" y2="522.11" stroke="#2f5f96" stroke-width="1"/>
<line x1="323.1" y1="552.97" x2="327.5" y2="552.97" stroke="#2f5f96" stroke-width="1"/>
<circle cx="325.3" cy="504.54" r="2.2" fill="#123f6e"/>
<circle cx="325.3" cy="523.53" r="2.2" fill="#123f6e"/>
<circle cx="325.3" cy="528.28" r="2.2" fill="#123f6e"/>
<circle cx="321.8" cy="547.27" r="2.2" fill="#123f6e"/>
<circle cx="324.1" cy="547.27" r="2.2" fill="#123f6e"/>
<circle cx="326.5" cy="547.27" r="2.2" fill="#123f6e"/>
<circle cx="328.8" cy="547.27" r="2.2" fill="#123f6e"/>
<rect x="335.7" y="562.94" width="10.7" height="36.86" fill="none" stroke="#cf2f4b" stroke-width="1"/>
<line x1="341.05" y1="545.85" x2="341.05" y2="579.56" stroke="#c8243f" stroke-width="1"/>
<line x1="338.85" y1="545.85" x2="343.25" y2="545.85" stroke="#c8243f" stroke-width="1"/>
<line x1="338.85" y1="579.56" x2="343.25" y2="579.56" stroke="#c8243f" stroke-width="1"/>
<polygon points="337.85,544.45 335.15,549.15 340.55,549.15" fill="#c0062e"/>
<polygon points="344.25,544.45 341.55,549.15 346.95,549.15" fill="#c0062e"/>
<polygon points="337.85,558.7 335.15,563.4 340.55,563.4" fill="#c0062e"/>
<polygon points="344.25,558.7 341.55,563.4 346.95,563.4" fill="#c0062e"/>
<polygon points="341.05,563.45 338.35,568.14 343.75,568.14" fill="#c0062e"/>
<polygon points="341.05,596.68 338.35,601.38 343.75,601.38" fill="#c0062e"/>
<text x="324.65" y="611.6" font-size="8.6" text-anchor="middle" fill="#231f20" font-weight="normal" textLength="17.5" lengthAdjust="spacingAndGlyphs">Lung</text>
<polyline points="308.3,493.6 308.3,478 323,478 323,483" fill="none" stroke="#231f20" stroke-width="1.1" stroke-linejoin="round"/>
<polyline points="326.4,483 326.4,478 340.2,478 340.2,493.6" fill="none" stroke="#231f20" stroke-width="1.1" stroke-linejoin="round"/>
<text x="315.65" y="477.1" font-size="9" text-anchor="middle" fill="#231f20" font-weight="normal" textLength="10.5" lengthAdjust="spacingAndGlyphs">***</text>
<text x="333.3" y="477.1" font-size="9" text-anchor="middle" fill="#231f20" font-weight="normal" textLength="7" lengthAdjust="spacingAndGlyphs">**</text>
<line x1="380.6" y1="478" x2="380.6" y2="600.9" stroke="#231f20" stroke-width="1.3"/>
<line x1="377.6" y1="599.5" x2="380.6" y2="599.5" stroke="#231f20" stroke-width="0.9"/>
<text x="374.6" y="602.4" font-size="8.2" text-anchor="end" fill="#231f20" font-weight="normal">0</text>
<line x1="377.6" y1="569.83" x2="380.6" y2="569.83" stroke="#231f20" stroke-width="0.9"/>
<text x="374.6" y="572.73" font-size="8.2" text-anchor="end" fill="#231f20" font-weight="normal">1</text>
<line x1="377.6" y1="540.15" x2="380.6" y2="540.15" stroke="#231f20" stroke-width="0.9"/>
<text x="374.6" y="543.05" font-size="8.2" text-anchor="end" fill="#231f20" font-weight="normal">2</text>
<line x1="377.6" y1="510.48" x2="380.6" y2="510.48" stroke="#231f20" stroke-width="0.9"/>
<text x="374.6" y="513.38" font-size="8.2" text-anchor="end" fill="#231f20" font-weight="normal">3</text>
<line x1="377.6" y1="480.8" x2="380.6" y2="480.8" stroke="#231f20" stroke-width="0.9"/>
<text x="374.6" y="483.7" font-size="8.2" text-anchor="end" fill="#231f20" font-weight="normal">4</text>
<line x1="380.1" y1="600.4" x2="435.2" y2="600.4" stroke="#231f20" stroke-width="1.3"/>
<rect x="386.8" y="596.9" width="10.3" height="3.2" fill="#3aa63a" stroke="none" stroke-width="1"/>
<rect x="403.1" y="536.59" width="10.8" height="63.21" fill="none" stroke="#3f6fa3" stroke-width="1"/>
<line x1="408.5" y1="526.2" x2="408.5" y2="546.98" stroke="#2f5f96" stroke-width="1"/>
<line x1="406.3" y1="526.2" x2="410.7" y2="526.2" stroke="#2f5f96" stroke-width="1"/>
<line x1="406.3" y1="546.98" x2="410.7" y2="546.98" stroke="#2f5f96" stroke-width="1"/>
<circle cx="408.5" cy="510.48" r="2.2" fill="#123f6e"/>
<circle cx="405" cy="540.15" r="2.2" fill="#123f6e"/>
<circle cx="407.3" cy="540.15" r="2.2" fill="#123f6e"/>
<circle cx="409.7" cy="540.15" r="2.2" fill="#123f6e"/>
<circle cx="412" cy="540.15" r="2.2" fill="#123f6e"/>
<rect x="419.7" y="569.83" width="10" height="29.97" fill="none" stroke="#cf2f4b" stroke-width="1"/>
<line x1="424.7" y1="547.57" x2="424.7" y2="592.08" stroke="#c8243f" stroke-width="1"/>
<line x1="422.5" y1="547.57" x2="426.9" y2="547.57" stroke="#c8243f" stroke-width="1"/>
<line x1="422.5" y1="592.08" x2="426.9" y2="592.08" stroke="#c8243f" stroke-width="1"/>
<polygon points="424.7,537.33 422,542.03 427.4,542.03" fill="#c0062e"/>
<polygon points="421.2,567.01 418.5,571.7 423.9,571.7" fill="#c0062e"/>
<polygon points="424.7,567.01 422,571.7 427.4,571.7" fill="#c0062e"/>
<polygon points="428.2,567.01 425.5,571.7 430.9,571.7" fill="#c0062e"/>
<polygon points="424.7,596.68 422,601.38 427.4,601.38" fill="#c0062e"/>
<text x="408.3" y="611.6" font-size="8.6" text-anchor="middle" fill="#231f20" font-weight="normal" textLength="13.8" lengthAdjust="spacingAndGlyphs">Skin</text>
<polyline points="392.6,493.6 392.6,478 407.6,478 407.6,483" fill="none" stroke="#231f20" stroke-width="1.1" stroke-linejoin="round"/>
<polyline points="411.4,483 411.4,478 425.2,478 425.2,493.6" fill="none" stroke="#231f20" stroke-width="1.1" stroke-linejoin="round"/>
<text x="400.1" y="477.1" font-size="9" text-anchor="middle" fill="#231f20" font-weight="normal" textLength="10.5" lengthAdjust="spacingAndGlyphs">***</text>
<text x="418.3" y="477.1" font-size="9" text-anchor="middle" fill="#231f20" font-weight="normal" textLength="7" lengthAdjust="spacingAndGlyphs">**</text>
<text x="1.6" y="162.8" font-size="11.6" text-anchor="start" fill="#000" font-weight="bold">E</text>
<text x="65" y="172.6" font-size="8.2" text-anchor="middle" fill="#231f20" font-weight="normal" textLength="54" lengthAdjust="spacingAndGlyphs">Small Intestine</text>
<text x="159" y="172.6" font-size="8.2" text-anchor="middle" fill="#231f20" font-weight="normal" textLength="22" lengthAdjust="spacingAndGlyphs">Colon</text>
<text x="252.3" y="172.6" font-size="8.2" text-anchor="middle" fill="#231f20" font-weight="normal" textLength="17.4" lengthAdjust="spacingAndGlyphs">Liver</text>
<text transform="translate(16.2 210.5) rotate(-90)" x="0" y="0" font-size="8.2" text-anchor="middle" fill="#231f20" font-weight="normal" textLength="11.6" lengthAdjust="spacingAndGlyphs">BM</text>
<text transform="translate(16.2 280) rotate(-90)" x="0" y="0" font-size="8.2" text-anchor="middle" fill="#231f20" font-weight="normal" textLength="26" lengthAdjust="spacingAndGlyphs">BM + T</text>
<text transform="translate(16.2 349) rotate(-90)" x="0" y="0" font-size="8.2" text-anchor="middle" fill="#231f20" font-weight="normal" textLength="52" lengthAdjust="spacingAndGlyphs">BM + T + rLIF</text>
<defs>
<filter id="td" x="0" y="0" width="100%" height="100%" color-interpolation-filters="sRGB"><feTurbulence type="fractalNoise" baseFrequency="0.4" numOctaves="2" seed="3"/><feColorMatrix type="matrix" values="0 0 0 0 0.4  0 0 0 0 0.1  0 0 0 0 0.42  3.5 0 0 0 -1.6"/></filter>
<filter id="tl" x="0" y="0" width="100%" height="100%" color-interpolation-filters="sRGB"><feTurbulence type="fractalNoise" baseFrequency="0.75" numOctaves="2" seed="9"/><feColorMatrix type="matrix" values="0 0 0 0 0.78  0 0 0 0 0.42  0 0 0 0 0.72  0 3.5 0 0 -1.75"/></filter>
<filter id="tex" x="0" y="0" width="100%" height="100%" color-interpolation-filters="sRGB"><feTurbulence type="fractalNoise" baseFrequency="0.45" numOctaves="2" seed="5" result="n"/><feColorMatrix in="n" type="matrix" values="1.0 0 0 0 0.52  1.0 0 0 0 0.52  1.0 0 0 0 0.52  0 0 0 0 1" result="m"/><feBlend in="SourceGraphic" in2="m" mode="multiply" result="b"/><feColorMatrix in="n" type="matrix" values="0 0 0 0 1  0 0 0 0 0.9  0 0 0 0 1  0 1.6 0 0 -0.92" result="w"/><feComposite in="w" in2="b" operator="atop" result="c"/><feComposite in="c" in2="SourceAlpha" operator="in"/></filter>
<filter id="bl" x="-5%" y="-5%" width="110%" height="110%"><feGaussianBlur stdDeviation="0.45"/></filter>
<filter id="bl2" x="-5%" y="-5%" width="110%" height="110%"><feGaussianBlur stdDeviation="0.8"/></filter>

<clipPath id="c00"><rect x="21.4" y="178.1" width="87.4" height="64.8"/></clipPath>
<clipPath id="c01"><rect x="21.4" y="246.1" width="87.4" height="66.2"/></clipPath>
<clipPath id="c02"><rect x="21.4" y="316" width="87.4" height="65.8"/></clipPath>
<clipPath id="c10"><rect x="115.3" y="178.1" width="87.5" height="64.8"/></clipPath>
<clipPath id="c11"><rect x="115.3" y="246.1" width="87.5" height="66.2"/></clipPath>
<clipPath id="c12"><rect x="115.3" y="316" width="87.5" height="65.8"/></clipPath>
<clipPath id="c20"><rect x="208.6" y="178.1" width="87.7" height="64.8"/></clipPath>
<clipPath id="c21"><rect x="208.6" y="246.1" width="87.7" height="66.2"/></clipPath>
<clipPath id="c22"><rect x="208.6" y="316" width="87.7" height="65.8"/></clipPath>
</defs>
<g clip-path="url(#c00)"><g filter="url(#bl)">
<rect x="18.4" y="175.1" width="93.4" height="70.8" fill="#d9c9cc" stroke="none" stroke-width="1"/>
<path d="M72 194 Q82 191 88 187 Q95 182 101 181 Q106 180 110 178" stroke="#9a889c" stroke-width="0.9" fill="none"/>
<path d="M80 193.5 Q90 190 97 185 Q102 183 108 182" stroke="#a898aa" stroke-width="0.7" fill="none"/>
<path d="M40 197 l3 0 M55 198 l3 -1 M62 197 l2 0" stroke="#bba8b8" stroke-width="0.8" fill="none"/>
<polygon points="18.4,206 64,206 109,193.5 111.8,193 111.8,245.9 18.4,245.9" fill="#c2b0d2"/>
<g filter="url(#tex)">
<line x1="22" y1="236" x2="22" y2="206.75" stroke="#40286e" stroke-width="5.5" stroke-linecap="round" opacity="1"/>
<line x1="22" y1="237" x2="22" y2="206.57" stroke="#7458a8" stroke-width="3.7" stroke-linecap="round" opacity="1"/>
<line x1="27.75" y1="236" x2="27.75" y2="207.44" stroke="#40286e" stroke-width="5.5" stroke-linecap="round" opacity="1"/>
<line x1="27.75" y1="237" x2="27.75" y2="207.26" stroke="#7458a8" stroke-width="3.7" stroke-linecap="round" opacity="1"/>
<line x1="33.5" y1="236" x2="33.5" y2="206.05" stroke="#40286e" stroke-width="5.5" stroke-linecap="round" opacity="1"/>
<line x1="33.5" y1="237" x2="33.5" y2="205.87" stroke="#7458a8" stroke-width="3.7" stroke-linecap="round" opacity="1"/>
<line x1="39.25" y1="236" x2="39.25" y2="206.76" stroke="#40286e" stroke-width="5.5" stroke-linecap="round" opacity="1"/>
<line x1="39.25" y1="237" x2="39.25" y2="206.58" stroke="#7458a8" stroke-width="3.7" stroke-linecap="round" opacity="1"/>
<line x1="45" y1="236" x2="45" y2="207.43" stroke="#40286e" stroke-width="5.5" stroke-linecap="round" opacity="1"/>
<line x1="45" y1="237" x2="45" y2="207.25" stroke="#7458a8" stroke-width="3.7" stroke-linecap="round" opacity="1"/>
<line x1="50.75" y1="236" x2="50.75" y2="206.05" stroke="#40286e" stroke-width="5.5" stroke-linecap="round" opacity="1"/>
<line x1="50.75" y1="237" x2="50.75" y2="205.87" stroke="#7458a8" stroke-width="3.7" stroke-linecap="round" opacity="1"/>
<line x1="56.5" y1="236" x2="56.5" y2="206.78" stroke="#40286e" stroke-width="5.5" stroke-linecap="round" opacity="1"/>
<line x1="56.5" y1="237" x2="56.5" y2="206.6" stroke="#7458a8" stroke-width="3.7" stroke-linecap="round" opacity="1"/>
<line x1="62.25" y1="236" x2="62.25" y2="207.43" stroke="#40286e" stroke-width="5.5" stroke-linecap="round" opacity="1"/>
<line x1="62.25" y1="237" x2="62.25" y2="207.25" stroke="#7458a8" stroke-width="3.7" stroke-linecap="round" opacity="1"/>
<line x1="67" y1="236" x2="69" y2="204.92" stroke="#40286e" stroke-width="5.5" stroke-linecap="round" opacity="1"/>
<line x1="67" y1="237" x2="69" y2="204.74" stroke="#7458a8" stroke-width="3.7" stroke-linecap="round" opacity="1"/>
<line x1="72.75" y1="236" x2="74.75" y2="204.07" stroke="#40286e" stroke-width="5.5" stroke-linecap="round" opacity="1"/>
<line x1="72.75" y1="237" x2="74.75" y2="203.89" stroke="#7458a8" stroke-width="3.7" stroke-linecap="round" opacity="1"/>
<line x1="78.5" y1="236" x2="80.5" y2="203.09" stroke="#40286e" stroke-width="5.5" stroke-linecap="round" opacity="1"/>
<line x1="78.5" y1="237" x2="80.5" y2="202.91" stroke="#7458a8" stroke-width="3.7" stroke-linecap="round" opacity="1"/>
<line x1="84.25" y1="236" x2="86.25" y2="200.1" stroke="#40286e" stroke-width="5.5" stroke-linecap="round" opacity="1"/>
<line x1="84.25" y1="237" x2="86.25" y2="199.92" stroke="#7458a8" stroke-width="3.7" stroke-linecap="round" opacity="1"/>
<line x1="90" y1="236" x2="92" y2="199.27" stroke="#40286e" stroke-width="5.5" stroke-linecap="round" opacity="1"/>
<line x1="90" y1="237" x2="92" y2="199.09" stroke="#7458a8" stroke-width="3.7" stroke-linecap="round" opacity="1"/>
<line x1="95.75" y1="236" x2="97.75" y2="198.27" stroke="#40286e" stroke-width="5.5" stroke-linecap="round" opacity="1"/>
<line x1="95.75" y1="237" x2="97.75" y2="198.09" stroke="#7458a8" stroke-width="3.7" stroke-linecap="round" opacity="1"/>
<line x1="101.5" y1="236" x2="103.5" y2="195.29" stroke="#40286e" stroke-width="5.5" stroke-linecap="round" opacity="1"/>
<line x1="101.5" y1="237" x2="103.5" y2="195.11" stroke="#7458a8" stroke-width="3.7" stroke-linecap="round" opacity="1"/>
<line x1="107.25" y1="236" x2="109.25" y2="194.47" stroke="#40286e" stroke-width="5.5" stroke-linecap="round" opacity="1"/>
<line x1="107.25" y1="237" x2="109.25" y2="194.29" stroke="#7458a8" stroke-width="3.7" stroke-linecap="round" opacity="1"/>
<defs><linearGradient id="g00b" x1="0" y1="0" x2="0" y2="1"><stop offset="0" stop-color="#5e4498"/><stop offset="1" stop-color="#4e3688"/></linearGradient></defs>
<polygon points="18.4,222 64,220 109,215 111.8,215 111.8,236 18.4,236" fill="url(#g00b)" opacity="0.75"/>
<defs><linearGradient id="g00" x1="0" y1="0" x2="0" y2="1"><stop offset="0" stop-color="#9a5aa6"/><stop offset="0.3" stop-color="#d46aa2"/><stop offset="1" stop-color="#dc84b4"/></linearGradient></defs>
<polygon points="18.4,231.5 50,231.8 80,229 109,224 111.8,224 111.8,240.2 18.4,240.2" fill="url(#g00)"/>
</g>
<line x1="24.9" y1="208" x2="24.9" y2="220" stroke="#cdb8dc" stroke-width="0.8" opacity="0.7"/>
<line x1="30.65" y1="208" x2="30.65" y2="220" stroke="#cdb8dc" stroke-width="0.8" opacity="0.7"/>
<line x1="36.4" y1="208" x2="36.4" y2="220" stroke="#cdb8dc" stroke-width="0.8" opacity="0.7"/>
<line x1="42.15" y1="208" x2="42.15" y2="220" stroke="#cdb8dc" stroke-width="0.8" opacity="0.7"/>
<line x1="47.9" y1="208" x2="47.9" y2="220" stroke="#cdb8dc" stroke-width="0.8" opacity="0.7"/>
<line x1="53.65" y1="208" x2="53.65" y2="220" stroke="#cdb8dc" stroke-width="0.8" opacity="0.7"/>
<line x1="59.4" y1="208" x2="59.4" y2="220" stroke="#cdb8dc" stroke-width="0.8" opacity="0.7"/>
<line x1="65.15" y1="207.68" x2="65.15" y2="219.68" stroke="#cdb8dc" stroke-width="0.8" opacity="0.7"/>
<line x1="70.9" y1="206.07" x2="70.9" y2="218.07" stroke="#cdb8dc" stroke-width="0.8" opacity="0.7"/>
<line x1="76.65" y1="204.47" x2="76.65" y2="216.47" stroke="#cdb8dc" stroke-width="0.8" opacity="0.7"/>
<line x1="82.4" y1="202.87" x2="82.4" y2="214.87" stroke="#cdb8dc" stroke-width="0.8" opacity="0.7"/>
<line x1="88.15" y1="201.26" x2="88.15" y2="213.26" stroke="#cdb8dc" stroke-width="0.8" opacity="0.7"/>
<line x1="93.9" y1="199.66" x2="93.9" y2="211.66" stroke="#cdb8dc" stroke-width="0.8" opacity="0.7"/>
<line x1="99.65" y1="198.05" x2="99.65" y2="210.05" stroke="#cdb8dc" stroke-width="0.8" opacity="0.7"/>
<line x1="105.4" y1="196.45" x2="105.4" y2="208.45" stroke="#cdb8dc" stroke-width="0.8" opacity="0.7"/>
<line x1="111.15" y1="194.84" x2="111.15" y2="206.84" stroke="#cdb8dc" stroke-width="0.8" opacity="0.7"/>
<defs><linearGradient id="g00w" x1="0" y1="0" x2="0" y2="1"><stop offset="0" stop-color="#e8d0e4"/><stop offset="1" stop-color="#f3eaf0"/></linearGradient></defs>
<polygon points="76,240 90,233 109,229 111.8,229 111.8,245.9 76,245.9" fill="url(#g00w)" opacity="0.55"/>
<polygon points="18.4,240.2 111.8,239.6 111.8,245.9 18.4,245.9" fill="#ecdfe6"/>
</g></g>
<g clip-path="url(#c00)">
<text x="86.6" y="240.8" font-size="8.8" text-anchor="middle" fill="#2a1c2e" font-weight="normal" textLength="12.2" lengthAdjust="spacingAndGlyphs">100</text>
<text x="101.6" y="240.8" font-size="8.6" text-anchor="middle" fill="#2a1c2e" font-weight="normal" textLength="10.6" lengthAdjust="spacingAndGlyphs">μm</text>
<line x1="96" y1="242.4" x2="107" y2="242.4" stroke="#6a6070" stroke-width="0.9"/>
</g>
<g clip-path="url(#c01)"><g filter="url(#bl)">
<rect x="18.4" y="243.1" width="93.4" height="72.2" fill="#ddd0d4" stroke="none" stroke-width="1"/>
<polygon points="18.4,284 111.8,277 111.8,315.3 18.4,315.3" fill="#e8d2e2"/>
<line x1="22" y1="292" x2="29" y2="274.95" stroke="#f0e2ee" stroke-width="8.9" stroke-linecap="round" opacity="1"/>
<line x1="30" y1="292" x2="35.5" y2="279.45" stroke="#f0e2ee" stroke-width="6.9" stroke-linecap="round" opacity="1"/>
<line x1="36" y1="292" x2="40" y2="275.95" stroke="#f0e2ee" stroke-width="7.9" stroke-linecap="round" opacity="1"/>
<line x1="47" y1="292" x2="47.5" y2="280.2" stroke="#f0e2ee" stroke-width="8.4" stroke-linecap="round" opacity="1"/>
<line x1="55" y1="292" x2="56" y2="269.7" stroke="#f0e2ee" stroke-width="7.4" stroke-linecap="round" opacity="1"/>
<line x1="61" y1="292" x2="63" y2="269.45" stroke="#f0e2ee" stroke-width="7.9" stroke-linecap="round" opacity="1"/>
<line x1="68" y1="292" x2="70.5" y2="266.45" stroke="#f0e2ee" stroke-width="8.9" stroke-linecap="round" opacity="1"/>
<line x1="76" y1="292" x2="78.5" y2="269.45" stroke="#f0e2ee" stroke-width="7.9" stroke-linecap="round" opacity="1"/>
<line x1="84" y1="292" x2="87.5" y2="264.45" stroke="#f0e2ee" stroke-width="8.9" stroke-linecap="round" opacity="1"/>
<line x1="93" y1="292" x2="95.5" y2="267.7" stroke="#f0e2ee" stroke-width="8.4" stroke-linecap="round" opacity="1"/>
<line x1="100" y1="292" x2="101.5" y2="268.7" stroke="#f0e2ee" stroke-width="7.4" stroke-linecap="round" opacity="1"/>
<line x1="106" y1="292" x2="106.5" y2="268.2" stroke="#f0e2ee" stroke-width="8.4" stroke-linecap="round" opacity="1"/>
<line x1="110" y1="292" x2="110" y2="265.7" stroke="#f0e2ee" stroke-width="7.4" stroke-linecap="round" opacity="1"/>
<circle cx="49" cy="270.5" r="6.4" fill="#f0e2ee"/>
<circle cx="101.2" cy="260.2" r="5.8" fill="#f0e2ee"/>
<g filter="url(#tex)">
<line x1="22" y1="292" x2="29" y2="274.2" stroke="#46226a" stroke-width="7.4" stroke-linecap="round" opacity="1"/>
<line x1="22" y1="293" x2="29" y2="274.06" stroke="#6e4294" stroke-width="6.05" stroke-linecap="round" opacity="1"/>
<line x1="30" y1="292" x2="35.5" y2="278.7" stroke="#46226a" stroke-width="5.4" stroke-linecap="round" opacity="1"/>
<line x1="30" y1="293" x2="35.5" y2="278.56" stroke="#6e4294" stroke-width="4.05" stroke-linecap="round" opacity="1"/>
<line x1="36" y1="292" x2="40" y2="275.2" stroke="#46226a" stroke-width="6.4" stroke-linecap="round" opacity="1"/>
<line x1="36" y1="293" x2="40" y2="275.06" stroke="#6e4294" stroke-width="5.05" stroke-linecap="round" opacity="1"/>
<line x1="47" y1="292" x2="47.5" y2="279.45" stroke="#46226a" stroke-width="6.9" stroke-linecap="round" opacity="1"/>
<line x1="47" y1="293" x2="47.5" y2="279.31" stroke="#6e4294" stroke-width="5.55" stroke-linecap="round" opacity="1"/>
<line x1="55" y1="292" x2="56" y2="268.95" stroke="#46226a" stroke-width="5.9" stroke-linecap="round" opacity="1"/>
<line x1="55" y1="293" x2="56" y2="268.81" stroke="#6e4294" stroke-width="4.55" stroke-linecap="round" opacity="1"/>
<line x1="61" y1="292" x2="63" y2="268.7" stroke="#46226a" stroke-width="6.4" stroke-linecap="round" opacity="1"/>
<line x1="61" y1="293" x2="63" y2="268.56" stroke="#6e4294" stroke-width="5.05" stroke-linecap="round" opacity="1"/>
<line x1="68" y1="292" x2="70.5" y2="265.7" stroke="#46226a" stroke-width="7.4" stroke-linecap="round" opacity="1"/>
<line x1="68" y1="293" x2="70.5" y2="265.56" stroke="#6e4294" stroke-width="6.05" stroke-linecap="round" opacity="1"/>
<line x1="76" y1="292" x2="78.5" y2="268.7" stroke="#46226a" stroke-width="6.4" stroke-linecap="round" opacity="1"/>
<line x1="76" y1="293" x2="78.5" y2="268.56" stroke="#6e4294" stroke-width="5.05" stroke-linecap="round" opacity="1"/>
<line x1="84" y1="292" x2="87.5" y2="263.7" stroke="#46226a" stroke-width="7.4" stroke-linecap="round" opacity="1"/>
<line x1="84" y1="293" x2="87.5" y2="263.56" stroke="#6e4294" stroke-width="6.05" stroke-linecap="round" opacity="1"/>
<line x1="93" y1="292" x2="95.5" y2="266.95" stroke="#46226a" stroke-width="6.9" stroke-linecap="round" opacity="1"/>
<line x1="93" y1="293" x2="95.5" y2="266.81" stroke="#6e4294" stroke-width="5.55" stroke-linecap="round" opacity="1"/>
<line x1="100" y1="292" x2="101.5" y2="267.95" stroke="#46226a" stroke-width="5.9" stroke-linecap="round" opacity="1"/>
<line x1="100" y1="293" x2="101.5" y2="267.81" stroke="#6e4294" stroke-width="4.55" stroke-linecap="round" opacity="1"/>
<line x1="106" y1="292" x2="106.5" y2="267.45" stroke="#46226a" stroke-width="6.9" stroke-linecap="round" opacity="1"/>
<line x1="106" y1="293" x2="106.5" y2="267.31" stroke="#6e4294" stroke-width="5.55" stroke-linecap="round" opacity="1"/>
<line x1="110" y1="292" x2="110" y2="264.95" stroke="#46226a" stroke-width="5.9" stroke-linecap="round" opacity="1"/>
<line x1="110" y1="293" x2="110" y2="264.81" stroke="#6e4294" stroke-width="4.55" stroke-linecap="round" opacity="1"/>
<circle cx="49" cy="270.5" r="5.2" fill="#5a2a72"/>
<circle cx="49" cy="270.5" r="4.4" fill="#7f4a98"/>
<circle cx="49" cy="270.5" r="2.08" fill="#9468b0"/>
<circle cx="101.2" cy="260.2" r="4.6" fill="#5a2a72"/>
<circle cx="101.2" cy="260.2" r="3.8" fill="#7f4a98"/>
<circle cx="101.2" cy="260.2" r="1.84" fill="#9468b0"/>
<line x1="81" y1="254.6" x2="89" y2="254.2" stroke="#4a2a6e" stroke-width="1.6"/>
<defs><linearGradient id="g01" x1="0" y1="0" x2="0" y2="1"><stop offset="0" stop-color="#6a3f92"/><stop offset="0.36" stop-color="#5e3a90"/><stop offset="0.5" stop-color="#b04890"/><stop offset="0.6" stop-color="#d24e94"/><stop offset="1" stop-color="#d6559a"/></linearGradient></defs>
<polygon points="18.4,285.5 40,284 111.8,281 111.8,310.4 18.4,310.4" fill="url(#g01)" opacity="1"/>
</g>
<polygon points="18.4,310.4 111.8,309.6 111.8,315.3 18.4,315.3" fill="#ede3e7"/>
</g></g>
<g clip-path="url(#c02)"><g filter="url(#bl)">
<rect x="18.4" y="313" width="93.4" height="71.8" fill="#d9d0d3" stroke="none" stroke-width="1"/>
<polygon points="18.4,319.5 92,320.5 97,316 111.8,313 111.8,384.8 18.4,384.8" fill="#eed0ea"/>
<g filter="url(#tex)">
<line x1="25.5" y1="352" x2="24" y2="321.8" stroke="#442066" stroke-width="6.6" stroke-linecap="round" opacity="1"/>
<line x1="25.5" y1="353" x2="24" y2="321.65" stroke="#6c3e94" stroke-width="5.1" stroke-linecap="round" opacity="1"/>
<line x1="27.6" y1="352" x2="30.6" y2="326.56" stroke="#442066" stroke-width="6.6" stroke-linecap="round" opacity="1"/>
<line x1="27.6" y1="353" x2="30.6" y2="326.41" stroke="#6c3e94" stroke-width="5.1" stroke-linecap="round" opacity="1"/>
<line x1="34.2" y1="352" x2="37.2" y2="325.31" stroke="#442066" stroke-width="6.6" stroke-linecap="round" opacity="1"/>
<line x1="34.2" y1="353" x2="37.2" y2="325.16" stroke="#6c3e94" stroke-width="5.1" stroke-linecap="round" opacity="1"/>
<line x1="40.8" y1="352" x2="43.8" y2="325.36" stroke="#442066" stroke-width="6.6" stroke-linecap="round" opacity="1"/>
<line x1="40.8" y1="353" x2="43.8" y2="325.21" stroke="#6c3e94" stroke-width="5.1" stroke-linecap="round" opacity="1"/>
<line x1="47.4" y1="352" x2="50.4" y2="326.57" stroke="#442066" stroke-width="6.6" stroke-linecap="round" opacity="1"/>
<line x1="47.4" y1="353" x2="50.4" y2="326.42" stroke="#6c3e94" stroke-width="5.1" stroke-linecap="round" opacity="1"/>
<line x1="54" y1="352" x2="57" y2="325.74" stroke="#442066" stroke-width="6.6" stroke-linecap="round" opacity="1"/>
<line x1="54" y1="353" x2="57" y2="325.59" stroke="#6c3e94" stroke-width="5.1" stroke-linecap="round" opacity="1"/>
<line x1="60.6" y1="352" x2="63.6" y2="325.06" stroke="#442066" stroke-width="6.6" stroke-linecap="round" opacity="1"/>
<line x1="60.6" y1="353" x2="63.6" y2="324.91" stroke="#6c3e94" stroke-width="5.1" stroke-linecap="round" opacity="1"/>
<line x1="67.2" y1="352" x2="70.2" y2="326.34" stroke="#442066" stroke-width="6.6" stroke-linecap="round" opacity="1"/>
<line x1="67.2" y1="353" x2="70.2" y2="326.19" stroke="#6c3e94" stroke-width="5.1" stroke-linecap="round" opacity="1"/>
<line x1="73.8" y1="352" x2="76.8" y2="326.19" stroke="#442066" stroke-width="6.6" stroke-linecap="round" opacity="1"/>
<line x1="73.8" y1="353" x2="76.8" y2="326.04" stroke="#6c3e94" stroke-width="5.1" stroke-linecap="round" opacity="1"/>
<line x1="80.4" y1="352" x2="83.4" y2="325.01" stroke="#442066" stroke-width="6.6" stroke-linecap="round" opacity="1"/>
<line x1="80.4" y1="353" x2="83.4" y2="324.86" stroke="#6c3e94" stroke-width="5.1" stroke-linecap="round" opacity="1"/>
<line x1="83.5" y1="352" x2="90" y2="325.14" stroke="#442066" stroke-width="6.6" stroke-linecap="round" opacity="1"/>
<line x1="83.5" y1="353" x2="90" y2="324.99" stroke="#6c3e94" stroke-width="5.1" stroke-linecap="round" opacity="1"/>
<line x1="90.1" y1="352" x2="96.6" y2="322.96" stroke="#442066" stroke-width="6.6" stroke-linecap="round" opacity="1"/>
<line x1="90.1" y1="353" x2="96.6" y2="322.81" stroke="#6c3e94" stroke-width="5.1" stroke-linecap="round" opacity="1"/>
<line x1="96.7" y1="352" x2="103.2" y2="320.78" stroke="#442066" stroke-width="6.6" stroke-linecap="round" opacity="1"/>
<line x1="96.7" y1="353" x2="103.2" y2="320.63" stroke="#6c3e94" stroke-width="5.1" stroke-linecap="round" opacity="1"/>
<line x1="103.3" y1="352" x2="109.8" y2="318.61" stroke="#442066" stroke-width="6.6" stroke-linecap="round" opacity="1"/>
<line x1="103.3" y1="353" x2="109.8" y2="318.46" stroke="#6c3e94" stroke-width="5.1" stroke-linecap="round" opacity="1"/>
</g>
<line x1="27.3" y1="322.5" x2="30" y2="344.19" stroke="#f2d4ee" stroke-width="0.9"/>
<line x1="33.9" y1="327.26" x2="32.1" y2="344.54" stroke="#f2d4ee" stroke-width="0.9"/>
<line x1="40.5" y1="326.01" x2="38.7" y2="345.04" stroke="#f2d4ee" stroke-width="0.9"/>
<line x1="47.1" y1="326.06" x2="45.3" y2="345.64" stroke="#f2d4ee" stroke-width="0.9"/>
<line x1="53.7" y1="327.27" x2="51.9" y2="346.27" stroke="#f2d4ee" stroke-width="0.9"/>
<line x1="60.3" y1="326.44" x2="58.5" y2="346.87" stroke="#f2d4ee" stroke-width="0.9"/>
<line x1="66.9" y1="325.76" x2="65.1" y2="347.39" stroke="#f2d4ee" stroke-width="0.9"/>
<line x1="73.5" y1="327.04" x2="71.7" y2="347.77" stroke="#f2d4ee" stroke-width="0.9"/>
<line x1="80.1" y1="326.89" x2="78.3" y2="347.97" stroke="#f2d4ee" stroke-width="0.9"/>
<line x1="86.7" y1="325.71" x2="84.9" y2="347.98" stroke="#f2d4ee" stroke-width="0.9"/>
<line x1="93.3" y1="325.84" x2="88" y2="347.79" stroke="#f2d4ee" stroke-width="0.9"/>
<line x1="99.9" y1="323.66" x2="94.6" y2="347.42" stroke="#f2d4ee" stroke-width="0.9"/>
<line x1="106.5" y1="321.48" x2="101.2" y2="346.91" stroke="#f2d4ee" stroke-width="0.9"/>
<line x1="113.1" y1="319.31" x2="107.8" y2="346.31" stroke="#f2d4ee" stroke-width="0.9"/>
<g filter="url(#tex)">
<defs><linearGradient id="g02" x1="0" y1="0" x2="0" y2="1"><stop offset="0" stop-color="#68408f"/><stop offset="0.35" stop-color="#5e3a8e"/><stop offset="0.5" stop-color="#a84a92"/><stop offset="0.6" stop-color="#d05898"/><stop offset="1" stop-color="#d6609e"/></linearGradient></defs>
<polygon points="18.4,348 111.8,346 111.8,378.4 18.4,378.4" fill="url(#g02)"/>
</g>
<line x1="18.4" y1="363.6" x2="111.8" y2="362.4" stroke="#e8b8da" stroke-width="0.8"/>
<polygon points="18.4,378.4 111.8,377.2 111.8,384.8 18.4,384.8" fill="#e6dde0"/>
</g></g>
<g clip-path="url(#c10)"><g filter="url(#bl)">
<rect x="112.3" y="175.1" width="93.5" height="70.8" fill="#dbd4d0" stroke="none" stroke-width="1"/>
<g filter="url(#tex)">
<polygon points="112.3,201.5 130,200 160,198.5 205.8,197.5 205.8,221 112.3,222.5" fill="#634a9c"/>
<circle cx="117.5" cy="200.11" r="1.4" fill="#5a3c8c"/>
<circle cx="121.75" cy="200.45" r="1.4" fill="#5a3c8c"/>
<circle cx="126" cy="200.08" r="1.4" fill="#5a3c8c"/>
<circle cx="130.25" cy="199.34" r="1.4" fill="#5a3c8c"/>
<circle cx="134.5" cy="199.09" r="1.4" fill="#5a3c8c"/>
<circle cx="138.75" cy="199.5" r="1.4" fill="#5a3c8c"/>
<circle cx="143" cy="199.74" r="1.4" fill="#5a3c8c"/>
<circle cx="147.25" cy="199.26" r="1.4" fill="#5a3c8c"/>
<circle cx="151.5" cy="198.54" r="1.4" fill="#5a3c8c"/>
<circle cx="155.75" cy="198.43" r="1.4" fill="#5a3c8c"/>
<circle cx="160" cy="198.88" r="1.4" fill="#5a3c8c"/>
<circle cx="164.25" cy="199.01" r="1.4" fill="#5a3c8c"/>
<circle cx="168.5" cy="198.43" r="1.4" fill="#5a3c8c"/>
<circle cx="172.75" cy="197.77" r="1.4" fill="#5a3c8c"/>
<circle cx="177" cy="197.78" r="1.4" fill="#5a3c8c"/>
<circle cx="181.25" cy="198.24" r="1.4" fill="#5a3c8c"/>
<circle cx="185.5" cy="198.26" r="1.4" fill="#5a3c8c"/>
<circle cx="189.75" cy="197.6" r="1.4" fill="#5a3c8c"/>
<circle cx="194" cy="197.01" r="1.4" fill="#5a3c8c"/>
<circle cx="198.25" cy="197.15" r="1.4" fill="#5a3c8c"/>
<circle cx="202.5" cy="197.6" r="1.4" fill="#5a3c8c"/>
<circle cx="134" cy="194.2" r="2.6" fill="#6a4c98"/>
<circle cx="131" cy="195.8" r="1.7" fill="#6a4c98"/>
<circle cx="136.5" cy="196.5" r="1.5" fill="#7a5aa6"/>
<polygon points="112.3,222 205.8,220 205.8,245.9 112.3,245.9" fill="#d45a9a"/>
<polygon points="160,245.9 166,239.8 180,238.6 205.8,238.2 205.8,245.9" fill="#583c8a"/>
</g>
<line x1="116" y1="203" x2="116" y2="214" stroke="#a890c4" stroke-width="0.9" opacity="0.8"/>
<line x1="120.25" y1="203" x2="120.25" y2="215.68" stroke="#a890c4" stroke-width="0.9" opacity="0.8"/>
<line x1="124.5" y1="203" x2="124.5" y2="215.82" stroke="#a890c4" stroke-width="0.9" opacity="0.8"/>
<line x1="128.75" y1="203" x2="128.75" y2="214.28" stroke="#a890c4" stroke-width="0.9" opacity="0.8"/>
<line x1="133" y1="203" x2="133" y2="212.49" stroke="#a890c4" stroke-width="0.9" opacity="0.8"/>
<line x1="137.25" y1="203" x2="137.25" y2="212.08" stroke="#a890c4" stroke-width="0.9" opacity="0.8"/>
<line x1="141.5" y1="203" x2="141.5" y2="213.44" stroke="#a890c4" stroke-width="0.9" opacity="0.8"/>
<line x1="145.75" y1="203" x2="145.75" y2="215.31" stroke="#a890c4" stroke-width="0.9" opacity="0.8"/>
<line x1="150" y1="203" x2="150" y2="215.98" stroke="#a890c4" stroke-width="0.9" opacity="0.8"/>
<line x1="154.25" y1="203" x2="154.25" y2="214.82" stroke="#a890c4" stroke-width="0.9" opacity="0.8"/>
<line x1="158.5" y1="203" x2="158.5" y2="212.91" stroke="#a890c4" stroke-width="0.9" opacity="0.8"/>
<line x1="162.75" y1="203" x2="162.75" y2="212" stroke="#a890c4" stroke-width="0.9" opacity="0.8"/>
<line x1="167" y1="203" x2="167" y2="212.93" stroke="#a890c4" stroke-width="0.9" opacity="0.8"/>
<line x1="171.25" y1="203" x2="171.25" y2="214.84" stroke="#a890c4" stroke-width="0.9" opacity="0.8"/>
<line x1="175.5" y1="203" x2="175.5" y2="215.98" stroke="#a890c4" stroke-width="0.9" opacity="0.8"/>
<line x1="179.75" y1="203" x2="179.75" y2="215.3" stroke="#a890c4" stroke-width="0.9" opacity="0.8"/>
<line x1="184" y1="203" x2="184" y2="213.42" stroke="#a890c4" stroke-width="0.9" opacity="0.8"/>
<line x1="188.25" y1="203" x2="188.25" y2="212.08" stroke="#a890c4" stroke-width="0.9" opacity="0.8"/>
<line x1="192.5" y1="203" x2="192.5" y2="212.5" stroke="#a890c4" stroke-width="0.9" opacity="0.8"/>
<line x1="196.75" y1="203" x2="196.75" y2="214.3" stroke="#a890c4" stroke-width="0.9" opacity="0.8"/>
<line x1="201" y1="203" x2="201" y2="215.83" stroke="#a890c4" stroke-width="0.9" opacity="0.8"/>
<polygon points="112.3,224.5 205.8,222.3 205.8,224 112.3,226" fill="#e282b2"/>
<path d="M121 239 Q135 233 152 230 Q165 228 178 228.2 Q166 229.6 154 232 Q138 235.5 123 240 Z" fill="#f0dce8"/>
<polygon points="112.3,236 205.8,233.5 205.8,235 112.3,237.5" fill="#d870a8" opacity="0.6"/>
<polygon points="112.3,242.3 160,241.8 160,245.9 112.3,245.9" fill="#d9a8c4"/>
</g></g>
<g clip-path="url(#c11)"><g filter="url(#bl)">
<rect x="112.3" y="243.1" width="93.5" height="72.2" fill="#dad5d1" stroke="none" stroke-width="1"/>
<g filter="url(#tex)">
<polygon points="112.3,259 205.8,257.5 205.8,283 112.3,283.5" fill="#553888"/>
<circle cx="116.5" cy="258.6" r="2.5" fill="#553888"/>
<circle cx="121.5" cy="259.29" r="2.5" fill="#553888"/>
<circle cx="126.5" cy="258.42" r="2.5" fill="#553888"/>
<circle cx="131.5" cy="257.95" r="2.5" fill="#553888"/>
<circle cx="136.5" cy="258.95" r="2.5" fill="#553888"/>
<circle cx="141.5" cy="259.16" r="2.5" fill="#553888"/>
<circle cx="146.5" cy="258.11" r="2.5" fill="#553888"/>
<circle cx="151.5" cy="258.17" r="2.5" fill="#553888"/>
<circle cx="156.5" cy="259.2" r="2.5" fill="#553888"/>
<circle cx="161.5" cy="258.88" r="2.5" fill="#553888"/>
<circle cx="166.5" cy="257.93" r="2.5" fill="#553888"/>
<circle cx="171.5" cy="258.5" r="2.5" fill="#553888"/>
<circle cx="176.5" cy="259.3" r="2.5" fill="#553888"/>
<circle cx="181.5" cy="258.52" r="2.5" fill="#553888"/>
<circle cx="186.5" cy="257.92" r="2.5" fill="#553888"/>
<circle cx="191.5" cy="258.85" r="2.5" fill="#553888"/>
<circle cx="196.5" cy="259.22" r="2.5" fill="#553888"/>
<circle cx="201.5" cy="258.19" r="2.5" fill="#553888"/>
</g>
<line x1="119" y1="262" x2="119" y2="279" stroke="#8f76b2" stroke-width="0.7"/>
<line x1="124" y1="262" x2="124" y2="280.26" stroke="#8f76b2" stroke-width="0.7"/>
<line x1="129" y1="262" x2="129" y2="280.36" stroke="#8f76b2" stroke-width="0.7"/>
<line x1="134" y1="262" x2="134" y2="279.21" stroke="#8f76b2" stroke-width="0.7"/>
<line x1="139" y1="262" x2="139" y2="277.86" stroke="#8f76b2" stroke-width="0.7"/>
<line x1="144" y1="262" x2="144" y2="277.56" stroke="#8f76b2" stroke-width="0.7"/>
<line x1="149" y1="262" x2="149" y2="278.58" stroke="#8f76b2" stroke-width="0.7"/>
<line x1="154" y1="262" x2="154" y2="279.99" stroke="#8f76b2" stroke-width="0.7"/>
<line x1="159" y1="262" x2="159" y2="280.48" stroke="#8f76b2" stroke-width="0.7"/>
<line x1="164" y1="262" x2="164" y2="279.62" stroke="#8f76b2" stroke-width="0.7"/>
<line x1="169" y1="262" x2="169" y2="278.18" stroke="#8f76b2" stroke-width="0.7"/>
<line x1="174" y1="262" x2="174" y2="277.5" stroke="#8f76b2" stroke-width="0.7"/>
<line x1="179" y1="262" x2="179" y2="278.2" stroke="#8f76b2" stroke-width="0.7"/>
<line x1="184" y1="262" x2="184" y2="279.63" stroke="#8f76b2" stroke-width="0.7"/>
<line x1="189" y1="262" x2="189" y2="280.49" stroke="#8f76b2" stroke-width="0.7"/>
<line x1="194" y1="262" x2="194" y2="279.98" stroke="#8f76b2" stroke-width="0.7"/>
<line x1="199" y1="262" x2="199" y2="278.57" stroke="#8f76b2" stroke-width="0.7"/>
<line x1="204" y1="262" x2="204" y2="277.56" stroke="#8f76b2" stroke-width="0.7"/>
<polygon points="112.3,283 205.8,282 205.8,284.8 112.3,285.8" fill="#d678aa"/>
<polygon points="112.3,285.8 205.8,284.8 205.8,291 112.3,296.8" fill="#d8cdd0"/>
<circle cx="116" cy="286.55" r="0.55" fill="#a08898"/>
<circle cx="153.3" cy="287.41" r="0.55" fill="#a08898"/>
<circle cx="190.6" cy="288.26" r="0.55" fill="#a08898"/>
<circle cx="139" cy="293.16" r="0.55" fill="#a08898"/>
<circle cx="176.3" cy="285.51" r="0.55" fill="#a08898"/>
<circle cx="125.6" cy="290.37" r="0.55" fill="#a08898"/>
<circle cx="162" cy="291.26" r="0.55" fill="#a08898"/>
<circle cx="199.3" cy="283.62" r="0.55" fill="#a08898"/>
<circle cx="148.6" cy="288.47" r="0.55" fill="#a08898"/>
<circle cx="185" cy="289.37" r="0.55" fill="#a08898"/>
<circle cx="134.3" cy="285.72" r="0.55" fill="#a08898"/>
<circle cx="171.6" cy="286.58" r="0.55" fill="#a08898"/>
<circle cx="120" cy="291.47" r="0.55" fill="#a08898"/>
<circle cx="157.3" cy="292.33" r="0.55" fill="#a08898"/>
<circle cx="194.6" cy="284.68" r="0.55" fill="#a08898"/>
<circle cx="143" cy="289.58" r="0.55" fill="#a08898"/>
<circle cx="180.3" cy="290.43" r="0.55" fill="#a08898"/>
<circle cx="129.6" cy="286.79" r="0.55" fill="#a08898"/>
<circle cx="166" cy="287.68" r="0.55" fill="#a08898"/>
<circle cx="203.3" cy="288.54" r="0.55" fill="#a08898"/>
<circle cx="152.6" cy="284.89" r="0.55" fill="#a08898"/>
<circle cx="189" cy="285.79" r="0.55" fill="#a08898"/>
<circle cx="138.3" cy="290.64" r="0.55" fill="#a08898"/>
<circle cx="175.6" cy="291.5" r="0.55" fill="#a08898"/>
<circle cx="124" cy="287.89" r="0.55" fill="#a08898"/>
<circle cx="161.3" cy="288.75" r="0.55" fill="#a08898"/>
<circle cx="198.6" cy="289.6" r="0.55" fill="#a08898"/>
<circle cx="147" cy="286" r="0.55" fill="#a08898"/>
<circle cx="184.3" cy="286.85" r="0.55" fill="#a08898"/>
<circle cx="133.6" cy="291.7" r="0.55" fill="#a08898"/>
<circle cx="170" cy="284.1" r="0.55" fill="#a08898"/>
<circle cx="119.3" cy="288.95" r="0.55" fill="#a08898"/>
<circle cx="156.6" cy="289.81" r="0.55" fill="#a08898"/>
<circle cx="193" cy="290.7" r="0.55" fill="#a08898"/>
<circle cx="142.3" cy="287.06" r="0.55" fill="#a08898"/>
<circle cx="179.6" cy="287.91" r="0.55" fill="#a08898"/>
<circle cx="128" cy="292.81" r="0.55" fill="#a08898"/>
<circle cx="165.3" cy="285.16" r="0.55" fill="#a08898"/>
<circle cx="202.6" cy="286.02" r="0.55" fill="#a08898"/>
<circle cx="151" cy="290.91" r="0.55" fill="#a08898"/>
<circle cx="188.3" cy="283.27" r="0.55" fill="#a08898"/>
<circle cx="137.6" cy="288.12" r="0.55" fill="#a08898"/>
<circle cx="174" cy="289.02" r="0.55" fill="#a08898"/>
<circle cx="123.3" cy="293.87" r="0.55" fill="#a08898"/>
<circle cx="160.6" cy="286.23" r="0.55" fill="#a08898"/>
<circle cx="197" cy="287.12" r="0.55" fill="#a08898"/>
<circle cx="146.3" cy="291.98" r="0.55" fill="#a08898"/>
<circle cx="183.6" cy="284.33" r="0.55" fill="#a08898"/>
<circle cx="132" cy="289.23" r="0.55" fill="#a08898"/>
<circle cx="169.3" cy="290.08" r="0.55" fill="#a08898"/>
<circle cx="118.6" cy="286.44" r="0.55" fill="#a08898"/>
<circle cx="155" cy="287.33" r="0.55" fill="#a08898"/>
<circle cx="192.3" cy="288.19" r="0.55" fill="#a08898"/>
<circle cx="141.6" cy="293.04" r="0.55" fill="#a08898"/>
<circle cx="178" cy="285.44" r="0.55" fill="#a08898"/>
<circle cx="127.3" cy="290.29" r="0.55" fill="#a08898"/>
<circle cx="164.6" cy="291.15" r="0.55" fill="#a08898"/>
<circle cx="201" cy="283.54" r="0.55" fill="#a08898"/>
<circle cx="150.3" cy="288.4" r="0.55" fill="#a08898"/>
<circle cx="187.6" cy="289.25" r="0.55" fill="#a08898"/>
<circle cx="136" cy="285.65" r="0.55" fill="#a08898"/>
<circle cx="173.3" cy="286.5" r="0.55" fill="#a08898"/>
<circle cx="122.6" cy="291.35" r="0.55" fill="#a08898"/>
<circle cx="159" cy="292.25" r="0.55" fill="#a08898"/>
<circle cx="196.3" cy="284.6" r="0.55" fill="#a08898"/>
<circle cx="145.6" cy="289.46" r="0.55" fill="#a08898"/>
<circle cx="182" cy="290.35" r="0.55" fill="#a08898"/>
<circle cx="131.3" cy="286.71" r="0.55" fill="#a08898"/>
<circle cx="168.6" cy="287.56" r="0.55" fill="#a08898"/>
<circle cx="117" cy="292.46" r="0.55" fill="#a08898"/>
<circle cx="154.3" cy="284.81" r="0.55" fill="#a08898"/>
<circle cx="191.6" cy="285.67" r="0.55" fill="#a08898"/>
<circle cx="140" cy="290.56" r="0.55" fill="#a08898"/>
<circle cx="177.3" cy="291.42" r="0.55" fill="#a08898"/>
<circle cx="126.6" cy="287.77" r="0.55" fill="#a08898"/>
<circle cx="163" cy="288.67" r="0.55" fill="#a08898"/>
<circle cx="200.3" cy="289.52" r="0.55" fill="#a08898"/>
<circle cx="149.6" cy="285.88" r="0.55" fill="#a08898"/>
<circle cx="186" cy="286.77" r="0.55" fill="#a08898"/>
<circle cx="135.3" cy="291.63" r="0.55" fill="#a08898"/>
<circle cx="172.6" cy="283.98" r="0.55" fill="#a08898"/>
<circle cx="121" cy="288.88" r="0.55" fill="#a08898"/>
<circle cx="158.3" cy="289.73" r="0.55" fill="#a08898"/>
<circle cx="195.6" cy="290.59" r="0.55" fill="#a08898"/>
<circle cx="144" cy="286.98" r="0.55" fill="#a08898"/>
<circle cx="181.3" cy="287.84" r="0.55" fill="#a08898"/>
<circle cx="130.6" cy="292.69" r="0.55" fill="#a08898"/>
<circle cx="167" cy="285.09" r="0.55" fill="#a08898"/>
<circle cx="116.3" cy="289.94" r="0.55" fill="#a08898"/>
<circle cx="153.6" cy="290.8" r="0.55" fill="#a08898"/>
<g filter="url(#tex)">
<polygon points="112.3,296.8 205.8,291 205.8,306.8 112.3,309.2" fill="#d2348b"/>
</g>
<line x1="139" y1="297" x2="136.5" y2="309" stroke="#a01e62" stroke-width="0.9"/>
<line x1="180.5" y1="293" x2="181.5" y2="306.5" stroke="#a01e62" stroke-width="0.9"/>
<polygon points="112.3,309.2 205.8,306.8 205.8,315.3 112.3,315.3" fill="#e3d9dc"/>
<polygon points="112.3,309 128,309 126,313 112.3,313" fill="#d9a0c0" opacity="0.7"/>
</g></g>
<g clip-path="url(#c12)"><g filter="url(#bl)">
<rect x="112.3" y="313" width="93.5" height="71.8" fill="#dad4d0" stroke="none" stroke-width="1"/>
<g filter="url(#tex)">
<polygon points="112.3,313 205.8,313 205.8,329 112.3,327.4" fill="#d0579a"/>
<polygon points="112.3,333.3 205.8,333.6 205.8,352.8 112.3,352.8" fill="#66428f"/>
<polygon points="112.3,352.8 205.8,352.8 205.8,366.3 112.3,366.3" fill="#d4589c"/>
<path d="M112.3 374.5 Q120 373.5 124 376 Q127 379 126 384.8 L112.3 384.8 Z" fill="#5e3d8d"/>
<circle cx="151" cy="378.2" r="2.3" fill="#5e3d8d"/>
<circle cx="155.3" cy="378.65" r="2.3" fill="#5e3d8d"/>
<circle cx="159.6" cy="377.6" r="2.3" fill="#5e3d8d"/>
<circle cx="163.9" cy="378.55" r="2.3" fill="#5e3d8d"/>
<circle cx="168.2" cy="378.33" r="2.3" fill="#5e3d8d"/>
<circle cx="172.5" cy="377.67" r="2.3" fill="#5e3d8d"/>
<circle cx="176.8" cy="378.77" r="2.3" fill="#5e3d8d"/>
<circle cx="181.1" cy="377.97" r="2.3" fill="#5e3d8d"/>
<circle cx="185.4" cy="377.94" r="2.3" fill="#5e3d8d"/>
<circle cx="189.7" cy="378.78" r="2.3" fill="#5e3d8d"/>
<circle cx="194" cy="377.69" r="2.3" fill="#5e3d8d"/>
<rect x="149" y="379" width="47" height="4" fill="#5e3d8d" stroke="none" stroke-width="1"/>
</g>
<polygon points="112.3,320 205.8,321 205.8,322.5 112.3,321.5" fill="#e07ab4" opacity="0.7"/>
<circle cx="195" cy="324.5" r="2.4" fill="#d01f3c"/>
<circle cx="199" cy="326" r="2" fill="#d01f3c"/>
<circle cx="152" cy="326.5" r="1.4" fill="#e8c0d8"/>
<line x1="117" y1="334.47" x2="116.9" y2="343.83" stroke="#d4c4e0" stroke-width="0.76" opacity="0.85"/>
<line x1="120.36" y1="334.8" x2="120.66" y2="350.34" stroke="#d4c4e0" stroke-width="1.01" opacity="0.85"/>
<line x1="124.09" y1="335.07" x2="123.76" y2="345.21" stroke="#d4c4e0" stroke-width="0.74" opacity="0.85"/>
<line x1="127.81" y1="335.85" x2="128.11" y2="349.63" stroke="#d4c4e0" stroke-width="1.02" opacity="0.85"/>
<line x1="131.47" y1="334.62" x2="131.7" y2="348.02" stroke="#d4c4e0" stroke-width="1.04" opacity="0.85"/>
<line x1="136.78" y1="334.17" x2="136.95" y2="347.85" stroke="#d4c4e0" stroke-width="0.9" opacity="0.85"/>
<line x1="140.41" y1="334.95" x2="140.84" y2="343.71" stroke="#d4c4e0" stroke-width="1.05" opacity="0.85"/>
<line x1="144.92" y1="334.6" x2="145" y2="350.27" stroke="#d4c4e0" stroke-width="1.05" opacity="0.85"/>
<line x1="150.16" y1="335.02" x2="150.26" y2="346.31" stroke="#d4c4e0" stroke-width="0.87" opacity="0.85"/>
<line x1="153.75" y1="334.61" x2="153.29" y2="349.5" stroke="#d4c4e0" stroke-width="0.72" opacity="0.85"/>
<line x1="158.45" y1="334.56" x2="158.42" y2="347.28" stroke="#d4c4e0" stroke-width="0.84" opacity="0.85"/>
<line x1="164.04" y1="334.39" x2="163.75" y2="346.3" stroke="#d4c4e0" stroke-width="0.95" opacity="0.85"/>
<line x1="167.91" y1="334.71" x2="167.73" y2="348.98" stroke="#d4c4e0" stroke-width="0.92" opacity="0.85"/>
<line x1="173.28" y1="334.2" x2="173.01" y2="343.49" stroke="#d4c4e0" stroke-width="1.01" opacity="0.85"/>
<line x1="177.95" y1="334.47" x2="177.63" y2="345.65" stroke="#d4c4e0" stroke-width="0.88" opacity="0.85"/>
<line x1="181.26" y1="335.39" x2="181.71" y2="350.17" stroke="#d4c4e0" stroke-width="0.99" opacity="0.85"/>
<line x1="186.76" y1="334.04" x2="187.23" y2="345.31" stroke="#d4c4e0" stroke-width="1.01" opacity="0.85"/>
<line x1="190.95" y1="335.89" x2="191.26" y2="347.96" stroke="#d4c4e0" stroke-width="0.82" opacity="0.85"/>
<line x1="194.6" y1="334.89" x2="194.49" y2="344.09" stroke="#d4c4e0" stroke-width="1.08" opacity="0.85"/>
<line x1="198.6" y1="334.02" x2="198.27" y2="343.36" stroke="#d4c4e0" stroke-width="1.01" opacity="0.85"/>
<line x1="112.3" y1="355.8" x2="205.8" y2="356.8" stroke="#ebbbd6" stroke-width="0.9"/>
</g></g>
<g clip-path="url(#c20)"><g filter="url(#bl)">
<rect x="205.6" y="175.1" width="93.7" height="70.8" fill="#9a358a" stroke="none" stroke-width="1"/>
<rect x="205.6" y="175.1" width="93.7" height="70.8" filter="url(#td)" opacity="0.45"/>
<rect x="205.6" y="175.1" width="93.7" height="70.8" filter="url(#tl)" opacity="0.45"/>
<ellipse cx="257.3" cy="197.3" rx="2.7" ry="3.42" transform="rotate(-20 257.3 197.3)" fill="#dfcbd2" stroke="#d088b8" stroke-width="1.0"/>
<circle cx="256.4" cy="198.63" r="0.6" fill="#8a4a78"/>
<ellipse cx="271.9" cy="201.5" rx="3.78" ry="4.14" transform="rotate(-35 271.9 201.5)" fill="#dfcbd2" stroke="#d088b8" stroke-width="1.0"/>
<circle cx="270.64" cy="203.11" r="0.6" fill="#8a4a78"/>
</g></g>
<g clip-path="url(#c21)"><g filter="url(#bl)">
<rect x="205.6" y="243.1" width="93.7" height="72.2" fill="#933b8f" stroke="none" stroke-width="1"/>
<rect x="205.6" y="243.1" width="93.7" height="72.2" filter="url(#td)" opacity="0.45"/>
<rect x="205.6" y="243.1" width="93.7" height="72.2" filter="url(#tl)" opacity="0.45"/>
<ellipse cx="222.2" cy="256.7" rx="2.16" ry="3.24" transform="rotate(10 222.2 256.7)" fill="#dfcbd2" stroke="#d088b8" stroke-width="1.0"/>
<ellipse cx="253.8" cy="255.8" rx="1.71" ry="3.42" transform="rotate(-5 253.8 255.8)" fill="#dfcbd2" stroke="#d088b8" stroke-width="1.0"/>
<ellipse cx="262.9" cy="277.5" rx="3.42" ry="2.07" transform="rotate(15 262.9 277.5)" fill="#dfcbd2" stroke="#d088b8" stroke-width="1.0"/>
<ellipse cx="224.9" cy="291" rx="1.98" ry="1.17" transform="rotate(-30 224.9 291)" fill="#dfcbd2" stroke="#d088b8" stroke-width="1.0"/>
<ellipse cx="253.8" cy="301" rx="2.88" ry="4.86" transform="rotate(5 253.8 301)" fill="#dfcbd2" stroke="#d088b8" stroke-width="1.0"/>
<circle cx="254.76" cy="302.89" r="0.6" fill="#8a4a78"/>
<ellipse cx="246.6" cy="288.3" rx="1.62" ry="1.17" transform="rotate(0 246.6 288.3)" fill="#dfcbd2" stroke="#d088b8" stroke-width="1.0"/>
<ellipse cx="287.3" cy="273" rx="1.44" ry="0.99" transform="rotate(0 287.3 273)" fill="#dfcbd2" stroke="#d088b8" stroke-width="1.0"/>
<ellipse cx="262.5" cy="272.5" rx="0.99" ry="1.44" transform="rotate(0 262.5 272.5)" fill="#dfcbd2" stroke="#d088b8" stroke-width="1.0"/>
<ellipse cx="237" cy="290" rx="1.26" ry="0.9" transform="rotate(0 237 290)" fill="#dfcbd2" stroke="#d088b8" stroke-width="1.0"/>
</g></g>
<g clip-path="url(#c22)"><g filter="url(#bl)">
<rect x="205.6" y="313" width="93.7" height="71.8" fill="#7e3688" stroke="none" stroke-width="1"/>
<rect x="205.6" y="313" width="93.7" height="71.8" filter="url(#td)" opacity="0.45"/>
<rect x="205.6" y="313" width="93.7" height="71.8" filter="url(#tl)" opacity="0.45"/>
<ellipse cx="248.4" cy="319.6" rx="2.52" ry="1.8" transform="rotate(0 248.4 319.6)" fill="#dfcbd2" stroke="#d088b8" stroke-width="1.0"/>
<ellipse cx="220.4" cy="329.2" rx="1.8" ry="3.96" transform="rotate(-20 220.4 329.2)" fill="#dfcbd2" stroke="#d088b8" stroke-width="1.0"/>
<ellipse cx="215" cy="353.6" rx="2.16" ry="1.71" transform="rotate(0 215 353.6)" fill="#dfcbd2" stroke="#d088b8" stroke-width="1.0"/>
<ellipse cx="256.5" cy="350.9" rx="2.16" ry="2.16" transform="rotate(0 256.5 350.9)" fill="#dfcbd2" stroke="#d088b8" stroke-width="1.0"/>
<ellipse cx="251.1" cy="367.2" rx="2.88" ry="3.06" transform="rotate(0 251.1 367.2)" fill="#dfcbd2" stroke="#d088b8" stroke-width="1.0"/>
<circle cx="250.14" cy="368.39" r="0.6" fill="#8a4a78"/>
</g></g>
</svg></body></html>
